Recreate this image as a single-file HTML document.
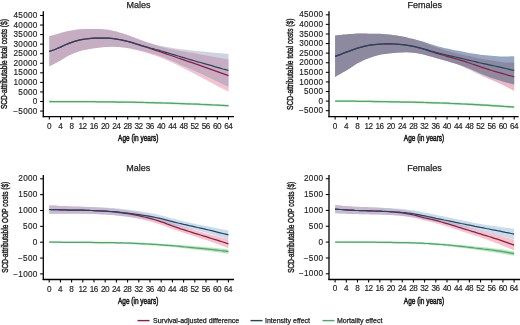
<!DOCTYPE html>
<html><head><meta charset="utf-8"><style>
html,body{margin:0;padding:0;background:#fff;width:520px;height:325px;overflow:hidden}
svg{display:block;filter:blur(0.3px)}
text{font-family:"Liberation Sans", sans-serif;fill:#1e1e1e;stroke:#1e1e1e;stroke-width:0.25px}
.tk{font-size:8.2px;stroke-width:0.15px}
.xl{font-size:9.8px;stroke-width:0.6px}
.ti{font-size:9px}
.yl{font-size:9.2px;stroke-width:0.45px}
.lg{font-size:7px}
</style></head><body>
<svg width="520" height="325" viewBox="0 0 520 325">
<rect width="520" height="325" fill="#fff"/>
<clipPath id="c1"><path d="M49.3,36.1 L52.1,35.5 L54.9,34.8 L57.7,33.9 L60.5,33.1 L63.3,32.3 L66.1,31.6 L68.9,31.1 L71.7,30.6 L74.5,30.1 L77.3,29.6 L80.1,29.2 L82.9,29.0 L85.7,29.0 L88.5,28.9 L91.3,28.9 L94.1,28.9 L96.9,29.0 L99.7,29.0 L102.5,29.2 L105.3,29.4 L108.1,29.8 L110.9,30.3 L113.7,30.9 L116.5,31.6 L119.3,32.4 L122.1,33.2 L124.9,34.1 L127.7,35.1 L130.5,36.0 L133.3,37.1 L136.1,38.1 L138.9,39.2 L141.7,40.2 L144.5,41.3 L147.3,42.3 L150.1,43.2 L152.9,44.0 L155.7,44.7 L158.5,45.4 L161.3,46.1 L164.1,46.6 L166.9,47.1 L169.7,47.6 L172.5,48.1 L175.3,48.5 L178.1,48.8 L180.9,49.2 L183.7,49.5 L186.5,49.8 L189.3,50.2 L192.1,50.5 L194.9,50.8 L197.7,51.1 L200.5,51.4 L203.3,51.6 L206.1,51.9 L208.9,52.2 L211.7,52.5 L214.5,52.8 L217.3,53.0 L220.1,53.3 L222.9,53.5 L225.7,53.7 L228.5,53.9 L228.5,87.0 L225.7,85.6 L222.9,84.2 L220.1,82.9 L217.3,81.5 L214.5,80.2 L211.7,78.8 L208.9,77.5 L206.1,76.2 L203.3,74.8 L200.5,73.5 L197.7,72.2 L194.9,70.9 L192.1,69.7 L189.3,68.5 L186.5,67.3 L183.7,66.1 L180.9,64.9 L178.1,63.6 L175.3,62.3 L172.5,61.1 L169.7,59.9 L166.9,58.7 L164.1,57.5 L161.3,56.5 L158.5,55.5 L155.7,54.6 L152.9,53.7 L150.1,52.9 L147.3,52.2 L144.5,51.5 L141.7,50.8 L138.9,50.2 L136.1,49.5 L133.3,48.9 L130.5,48.3 L127.7,47.9 L124.9,47.5 L122.1,47.2 L119.3,47.0 L116.5,46.9 L113.7,46.8 L110.9,46.8 L108.1,46.9 L105.3,47.0 L102.5,47.2 L99.7,47.5 L96.9,47.9 L94.1,48.3 L91.3,48.7 L88.5,49.2 L85.7,49.7 L82.9,50.3 L80.1,51.0 L77.3,52.0 L74.5,53.1 L71.7,54.3 L68.9,55.6 L66.1,57.1 L63.3,58.8 L60.5,60.5 L57.7,62.1 L54.9,63.6 L52.1,65.0 L49.3,66.3 Z"/></clipPath>
<path d="M49.3,36.1 L52.1,35.5 L54.9,34.8 L57.7,33.9 L60.5,33.1 L63.3,32.3 L66.1,31.6 L68.9,31.1 L71.7,30.6 L74.5,30.1 L77.3,29.6 L80.1,29.2 L82.9,29.0 L85.7,29.0 L88.5,28.9 L91.3,28.9 L94.1,28.9 L96.9,29.0 L99.7,29.0 L102.5,29.2 L105.3,29.4 L108.1,29.8 L110.9,30.3 L113.7,30.9 L116.5,31.6 L119.3,32.4 L122.1,33.3 L124.9,34.2 L127.7,35.2 L130.5,36.2 L133.3,37.3 L136.1,38.4 L138.9,39.5 L141.7,40.5 L144.5,41.4 L147.3,42.4 L150.1,43.3 L152.9,44.2 L155.7,45.1 L158.5,46.0 L161.3,46.8 L164.1,47.6 L166.9,48.3 L169.7,48.9 L172.5,49.5 L175.3,50.0 L178.1,50.6 L180.9,51.0 L183.7,51.5 L186.5,52.0 L189.3,52.4 L192.1,52.8 L194.9,53.3 L197.7,53.8 L200.5,54.4 L203.3,55.0 L206.1,55.5 L208.9,56.1 L211.7,56.6 L214.5,57.1 L217.3,57.6 L220.1,58.1 L222.9,58.6 L225.7,59.1 L228.5,59.5 L228.5,91.7 L225.7,90.3 L222.9,88.8 L220.1,87.4 L217.3,85.9 L214.5,84.4 L211.7,83.0 L208.9,81.5 L206.1,80.0 L203.3,78.5 L200.5,77.0 L197.7,75.4 L194.9,74.0 L192.1,72.5 L189.3,71.1 L186.5,69.7 L183.7,68.3 L180.9,66.9 L178.1,65.5 L175.3,64.0 L172.5,62.7 L169.7,61.4 L166.9,60.2 L164.1,59.0 L161.3,57.9 L158.5,56.8 L155.7,55.8 L152.9,54.9 L150.1,54.0 L147.3,53.1 L144.5,52.3 L141.7,51.6 L138.9,50.8 L136.1,50.1 L133.3,49.4 L130.5,48.7 L127.7,48.2 L124.9,47.7 L122.1,47.4 L119.3,47.1 L116.5,46.9 L113.7,46.8 L110.9,46.8 L108.1,46.9 L105.3,47.0 L102.5,47.2 L99.7,47.5 L96.9,47.9 L94.1,48.3 L91.3,48.7 L88.5,49.2 L85.7,49.7 L82.9,50.3 L80.1,51.0 L77.3,52.0 L74.5,53.1 L71.7,54.3 L68.9,55.6 L66.1,57.1 L63.3,58.8 L60.5,60.5 L57.7,62.1 L54.9,63.6 L52.1,65.0 L49.3,66.3 Z" fill="#f3c4d0"/>
<path d="M49.3,36.1 L52.1,35.5 L54.9,34.8 L57.7,33.9 L60.5,33.1 L63.3,32.3 L66.1,31.6 L68.9,31.1 L71.7,30.6 L74.5,30.1 L77.3,29.6 L80.1,29.2 L82.9,29.0 L85.7,29.0 L88.5,28.9 L91.3,28.9 L94.1,28.9 L96.9,29.0 L99.7,29.0 L102.5,29.2 L105.3,29.4 L108.1,29.8 L110.9,30.3 L113.7,30.9 L116.5,31.6 L119.3,32.4 L122.1,33.2 L124.9,34.1 L127.7,35.1 L130.5,36.0 L133.3,37.1 L136.1,38.1 L138.9,39.2 L141.7,40.2 L144.5,41.3 L147.3,42.3 L150.1,43.2 L152.9,44.0 L155.7,44.7 L158.5,45.4 L161.3,46.1 L164.1,46.6 L166.9,47.1 L169.7,47.6 L172.5,48.1 L175.3,48.5 L178.1,48.8 L180.9,49.2 L183.7,49.5 L186.5,49.8 L189.3,50.2 L192.1,50.5 L194.9,50.8 L197.7,51.1 L200.5,51.4 L203.3,51.6 L206.1,51.9 L208.9,52.2 L211.7,52.5 L214.5,52.8 L217.3,53.0 L220.1,53.3 L222.9,53.5 L225.7,53.7 L228.5,53.9 L228.5,87.0 L225.7,85.6 L222.9,84.2 L220.1,82.9 L217.3,81.5 L214.5,80.2 L211.7,78.8 L208.9,77.5 L206.1,76.2 L203.3,74.8 L200.5,73.5 L197.7,72.2 L194.9,70.9 L192.1,69.7 L189.3,68.5 L186.5,67.3 L183.7,66.1 L180.9,64.9 L178.1,63.6 L175.3,62.3 L172.5,61.1 L169.7,59.9 L166.9,58.7 L164.1,57.5 L161.3,56.5 L158.5,55.5 L155.7,54.6 L152.9,53.7 L150.1,52.9 L147.3,52.2 L144.5,51.5 L141.7,50.8 L138.9,50.2 L136.1,49.5 L133.3,48.9 L130.5,48.3 L127.7,47.9 L124.9,47.5 L122.1,47.2 L119.3,47.0 L116.5,46.9 L113.7,46.8 L110.9,46.8 L108.1,46.9 L105.3,47.0 L102.5,47.2 L99.7,47.5 L96.9,47.9 L94.1,48.3 L91.3,48.7 L88.5,49.2 L85.7,49.7 L82.9,50.3 L80.1,51.0 L77.3,52.0 L74.5,53.1 L71.7,54.3 L68.9,55.6 L66.1,57.1 L63.3,58.8 L60.5,60.5 L57.7,62.1 L54.9,63.6 L52.1,65.0 L49.3,66.3 Z" fill="#cdd3e3"/>
<path d="M49.3,36.1 L52.1,35.5 L54.9,34.8 L57.7,33.9 L60.5,33.1 L63.3,32.3 L66.1,31.6 L68.9,31.1 L71.7,30.6 L74.5,30.1 L77.3,29.6 L80.1,29.2 L82.9,29.0 L85.7,29.0 L88.5,28.9 L91.3,28.9 L94.1,28.9 L96.9,29.0 L99.7,29.0 L102.5,29.2 L105.3,29.4 L108.1,29.8 L110.9,30.3 L113.7,30.9 L116.5,31.6 L119.3,32.4 L122.1,33.3 L124.9,34.2 L127.7,35.2 L130.5,36.2 L133.3,37.3 L136.1,38.4 L138.9,39.5 L141.7,40.5 L144.5,41.4 L147.3,42.4 L150.1,43.3 L152.9,44.2 L155.7,45.1 L158.5,46.0 L161.3,46.8 L164.1,47.6 L166.9,48.3 L169.7,48.9 L172.5,49.5 L175.3,50.0 L178.1,50.6 L180.9,51.0 L183.7,51.5 L186.5,52.0 L189.3,52.4 L192.1,52.8 L194.9,53.3 L197.7,53.8 L200.5,54.4 L203.3,55.0 L206.1,55.5 L208.9,56.1 L211.7,56.6 L214.5,57.1 L217.3,57.6 L220.1,58.1 L222.9,58.6 L225.7,59.1 L228.5,59.5 L228.5,91.7 L225.7,90.3 L222.9,88.8 L220.1,87.4 L217.3,85.9 L214.5,84.4 L211.7,83.0 L208.9,81.5 L206.1,80.0 L203.3,78.5 L200.5,77.0 L197.7,75.4 L194.9,74.0 L192.1,72.5 L189.3,71.1 L186.5,69.7 L183.7,68.3 L180.9,66.9 L178.1,65.5 L175.3,64.0 L172.5,62.7 L169.7,61.4 L166.9,60.2 L164.1,59.0 L161.3,57.9 L158.5,56.8 L155.7,55.8 L152.9,54.9 L150.1,54.0 L147.3,53.1 L144.5,52.3 L141.7,51.6 L138.9,50.8 L136.1,50.1 L133.3,49.4 L130.5,48.7 L127.7,48.2 L124.9,47.7 L122.1,47.4 L119.3,47.1 L116.5,46.9 L113.7,46.8 L110.9,46.8 L108.1,46.9 L105.3,47.0 L102.5,47.2 L99.7,47.5 L96.9,47.9 L94.1,48.3 L91.3,48.7 L88.5,49.2 L85.7,49.7 L82.9,50.3 L80.1,51.0 L77.3,52.0 L74.5,53.1 L71.7,54.3 L68.9,55.6 L66.1,57.1 L63.3,58.8 L60.5,60.5 L57.7,62.1 L54.9,63.6 L52.1,65.0 L49.3,66.3 Z" fill="#c7adc2" clip-path="url(#c1)"/>
<path d="M49.3,100.6 L52.1,100.6 L54.9,100.7 L57.7,100.7 L60.5,100.7 L63.3,100.7 L66.1,100.7 L68.9,100.7 L71.7,100.7 L74.5,100.7 L77.3,100.7 L80.1,100.7 L82.9,100.7 L85.7,100.8 L88.5,100.8 L91.3,100.8 L94.1,100.8 L96.9,100.8 L99.7,100.9 L102.5,100.9 L105.3,100.9 L108.1,100.9 L110.9,101.0 L113.7,101.0 L116.5,101.0 L119.3,101.1 L122.1,101.1 L124.9,101.2 L127.7,101.2 L130.5,101.3 L133.3,101.3 L136.1,101.3 L138.9,101.4 L141.7,101.5 L144.5,101.5 L147.3,101.6 L150.1,101.7 L152.9,101.7 L155.7,101.8 L158.5,101.9 L161.3,102.0 L164.1,102.0 L166.9,102.1 L169.7,102.2 L172.5,102.3 L175.3,102.4 L178.1,102.5 L180.9,102.6 L183.7,102.7 L186.5,102.8 L189.3,102.9 L192.1,103.0 L194.9,103.1 L197.7,103.2 L200.5,103.3 L203.3,103.4 L206.1,103.6 L208.9,103.7 L211.7,103.8 L214.5,104.0 L217.3,104.1 L220.1,104.2 L222.9,104.4 L225.7,104.5 L228.5,104.7 L228.5,106.8 L225.7,106.6 L222.9,106.5 L220.1,106.3 L217.3,106.2 L214.5,106.0 L211.7,105.9 L208.9,105.8 L206.1,105.6 L203.3,105.5 L200.5,105.4 L197.7,105.3 L194.9,105.1 L192.1,105.0 L189.3,104.9 L186.5,104.8 L183.7,104.7 L180.9,104.6 L178.1,104.5 L175.3,104.4 L172.5,104.3 L169.7,104.2 L166.9,104.1 L164.1,104.0 L161.3,103.9 L158.5,103.8 L155.7,103.7 L152.9,103.7 L150.1,103.6 L147.3,103.5 L144.5,103.4 L141.7,103.4 L138.9,103.3 L136.1,103.3 L133.3,103.2 L130.5,103.1 L127.7,103.1 L124.9,103.0 L122.1,103.0 L119.3,103.0 L116.5,102.9 L113.7,102.9 L110.9,102.8 L108.1,102.8 L105.3,102.8 L102.5,102.7 L99.7,102.7 L96.9,102.7 L94.1,102.6 L91.3,102.6 L88.5,102.6 L85.7,102.6 L82.9,102.5 L80.1,102.5 L77.3,102.5 L74.5,102.5 L71.7,102.5 L68.9,102.4 L66.1,102.4 L63.3,102.4 L60.5,102.4 L57.7,102.4 L54.9,102.4 L52.1,102.4 L49.3,102.4 Z" fill="#b4e4be" fill-opacity="1"/>
<path d="M49.3,101.5 L52.1,101.5 L54.9,101.5 L57.7,101.5 L60.5,101.5 L63.3,101.5 L66.1,101.6 L68.9,101.6 L71.7,101.6 L74.5,101.6 L77.3,101.6 L80.1,101.6 L82.9,101.6 L85.7,101.7 L88.5,101.7 L91.3,101.7 L94.1,101.7 L96.9,101.8 L99.7,101.8 L102.5,101.8 L105.3,101.8 L108.1,101.9 L110.9,101.9 L113.7,101.9 L116.5,102.0 L119.3,102.0 L122.1,102.1 L124.9,102.1 L127.7,102.1 L130.5,102.2 L133.3,102.2 L136.1,102.3 L138.9,102.4 L141.7,102.4 L144.5,102.5 L147.3,102.6 L150.1,102.6 L152.9,102.7 L155.7,102.8 L158.5,102.9 L161.3,102.9 L164.1,103.0 L166.9,103.1 L169.7,103.2 L172.5,103.3 L175.3,103.4 L178.1,103.5 L180.9,103.6 L183.7,103.7 L186.5,103.8 L189.3,103.9 L192.1,104.0 L194.9,104.1 L197.7,104.2 L200.5,104.4 L203.3,104.5 L206.1,104.6 L208.9,104.7 L211.7,104.9 L214.5,105.0 L217.3,105.1 L220.1,105.3 L222.9,105.4 L225.7,105.6 L228.5,105.7" fill="none" stroke="#47a962" stroke-width="1.25"/>
<path d="M49.3,51.4 L52.1,50.5 L54.9,49.5 L57.7,48.3 L60.5,47.1 L63.3,45.8 L66.1,44.5 L68.9,43.4 L71.7,42.3 L74.5,41.4 L77.3,40.6 L80.1,39.9 L82.9,39.4 L85.7,39.0 L88.5,38.7 L91.3,38.4 L94.1,38.2 L96.9,38.1 L99.7,38.0 L102.5,38.0 L105.3,38.0 L108.1,38.2 L110.9,38.4 L113.7,38.7 L116.5,39.1 L119.3,39.6 L122.1,40.1 L124.9,40.8 L127.7,41.5 L130.5,42.2 L133.3,43.1 L136.1,44.0 L138.9,44.9 L141.7,45.8 L144.5,46.7 L147.3,47.5 L150.1,48.4 L152.9,49.4 L155.7,50.3 L158.5,51.2 L161.3,52.2 L164.1,53.1 L166.9,54.1 L169.7,55.0 L172.5,56.0 L175.3,57.0 L178.1,58.0 L180.9,58.9 L183.7,59.9 L186.5,60.9 L189.3,61.8 L192.1,62.7 L194.9,63.6 L197.7,64.6 L200.5,65.6 L203.3,66.6 L206.1,67.6 L208.9,68.6 L211.7,69.6 L214.5,70.6 L217.3,71.6 L220.1,72.6 L222.9,73.6 L225.7,74.6 L228.5,75.6" fill="none" stroke="#921b43" stroke-width="1.25"/>
<path d="M49.3,51.4 L52.1,50.5 L54.9,49.5 L57.7,48.3 L60.5,47.1 L63.3,45.8 L66.1,44.5 L68.9,43.4 L71.7,42.3 L74.5,41.4 L77.3,40.6 L80.1,39.9 L82.9,39.4 L85.7,39.0 L88.5,38.7 L91.3,38.4 L94.1,38.2 L96.9,38.1 L99.7,38.0 L102.5,38.0 L105.3,38.0 L108.1,38.2 L110.9,38.4 L113.7,38.7 L116.5,39.1 L119.3,39.5 L122.1,40.1 L124.9,40.7 L127.7,41.4 L130.5,42.1 L133.3,42.9 L136.1,43.8 L138.9,44.6 L141.7,45.5 L144.5,46.3 L147.3,47.1 L150.1,48.0 L152.9,48.7 L155.7,49.5 L158.5,50.2 L161.3,51.0 L164.1,51.8 L166.9,52.7 L169.7,53.5 L172.5,54.4 L175.3,55.2 L178.1,56.0 L180.9,56.9 L183.7,57.7 L186.5,58.5 L189.3,59.4 L192.1,60.2 L194.9,61.0 L197.7,61.8 L200.5,62.5 L203.3,63.3 L206.1,64.1 L208.9,64.9 L211.7,65.7 L214.5,66.6 L217.3,67.4 L220.1,68.2 L222.9,69.0 L225.7,69.7 L228.5,70.5" fill="none" stroke="#1f4864" stroke-width="1.25"/>
<clipPath id="c2"><path d="M335.1,35.5 L337.9,35.2 L340.7,34.9 L343.5,34.6 L346.3,34.4 L349.1,34.1 L351.9,33.9 L354.7,33.7 L357.5,33.6 L360.3,33.5 L363.1,33.6 L365.9,33.6 L368.7,33.7 L371.5,33.7 L374.3,33.7 L377.1,33.7 L379.9,33.8 L382.7,34.0 L385.5,34.2 L388.3,34.5 L391.1,34.8 L393.9,35.2 L396.7,35.5 L399.5,36.0 L402.3,36.5 L405.1,37.0 L407.9,37.7 L410.7,38.4 L413.5,39.1 L416.3,39.8 L419.1,40.5 L421.9,41.2 L424.7,42.0 L427.4,42.9 L430.2,43.9 L433.0,44.8 L435.8,45.7 L438.6,46.5 L441.4,47.2 L444.2,47.9 L447.0,48.5 L449.8,49.1 L452.6,49.7 L455.4,50.2 L458.2,50.8 L461.0,51.3 L463.8,51.8 L466.6,52.4 L469.4,52.9 L472.2,53.4 L475.0,53.8 L477.8,54.3 L480.6,54.7 L483.4,55.0 L486.2,55.3 L489.0,55.6 L491.8,55.8 L494.6,56.1 L497.4,56.3 L500.2,56.4 L503.0,56.5 L505.8,56.5 L508.6,56.4 L511.4,56.3 L514.2,56.2 L514.2,84.4 L511.4,83.7 L508.6,83.0 L505.8,82.2 L503.0,81.4 L500.2,80.6 L497.4,79.8 L494.6,78.8 L491.8,77.9 L489.0,76.9 L486.2,75.8 L483.4,74.7 L480.6,73.6 L477.8,72.3 L475.0,71.0 L472.2,69.7 L469.4,68.5 L466.6,67.4 L463.8,66.3 L461.0,65.3 L458.2,64.4 L455.4,63.5 L452.6,62.7 L449.8,61.9 L447.0,61.1 L444.2,60.3 L441.4,59.5 L438.6,58.7 L435.8,57.9 L433.0,57.1 L430.2,56.3 L427.4,55.5 L424.7,54.8 L421.9,54.1 L419.1,53.5 L416.3,53.0 L413.5,52.7 L410.7,52.4 L407.9,52.3 L405.1,52.3 L402.3,52.4 L399.5,52.5 L396.7,52.7 L393.9,52.9 L391.1,53.2 L388.3,53.6 L385.5,53.9 L382.7,54.3 L379.9,54.8 L377.1,55.5 L374.3,56.3 L371.5,57.2 L368.7,58.2 L365.9,59.3 L363.1,60.6 L360.3,61.9 L357.5,63.3 L354.7,65.0 L351.9,66.9 L349.1,68.7 L346.3,70.4 L343.5,72.1 L340.7,73.7 L337.9,75.3 L335.1,76.9 Z"/></clipPath>
<path d="M335.1,35.5 L337.9,35.2 L340.7,34.9 L343.5,34.6 L346.3,34.4 L349.1,34.1 L351.9,33.9 L354.7,33.7 L357.5,33.6 L360.3,33.5 L363.1,33.6 L365.9,33.6 L368.7,33.7 L371.5,33.7 L374.3,33.7 L377.1,33.7 L379.9,33.8 L382.7,34.0 L385.5,34.2 L388.3,34.5 L391.1,34.8 L393.9,35.2 L396.7,35.5 L399.5,36.0 L402.3,36.5 L405.1,37.0 L407.9,37.7 L410.7,38.4 L413.5,39.1 L416.3,40.0 L419.1,40.9 L421.9,41.8 L424.7,42.8 L427.4,43.8 L430.2,45.0 L433.0,46.1 L435.8,47.1 L438.6,48.1 L441.4,49.0 L444.2,49.9 L447.0,50.8 L449.8,51.6 L452.6,52.3 L455.4,53.0 L458.2,53.7 L461.0,54.4 L463.8,55.0 L466.6,55.5 L469.4,56.1 L472.2,56.7 L475.0,57.3 L477.8,57.9 L480.6,58.4 L483.4,59.0 L486.2,59.5 L489.0,60.0 L491.8,60.5 L494.6,61.0 L497.4,61.5 L500.2,61.8 L503.0,62.2 L505.8,62.4 L508.6,62.5 L511.4,62.6 L514.2,62.6 L514.2,91.0 L511.4,89.5 L508.6,87.9 L505.8,86.4 L503.0,85.0 L500.2,83.7 L497.4,82.5 L494.6,81.3 L491.8,80.1 L489.0,78.9 L486.2,77.6 L483.4,76.4 L480.6,75.1 L477.8,73.8 L475.0,72.4 L472.2,71.1 L469.4,69.7 L466.6,68.5 L463.8,67.2 L461.0,66.0 L458.2,64.8 L455.4,63.8 L452.6,62.9 L449.8,62.1 L447.0,61.2 L444.2,60.4 L441.4,59.6 L438.6,58.8 L435.8,58.0 L433.0,57.2 L430.2,56.4 L427.4,55.7 L424.7,55.0 L421.9,54.3 L419.1,53.7 L416.3,53.2 L413.5,52.8 L410.7,52.5 L407.9,52.4 L405.1,52.3 L402.3,52.4 L399.5,52.5 L396.7,52.7 L393.9,52.9 L391.1,53.2 L388.3,53.6 L385.5,53.9 L382.7,54.3 L379.9,54.8 L377.1,55.5 L374.3,56.3 L371.5,57.2 L368.7,58.2 L365.9,59.3 L363.1,60.6 L360.3,61.9 L357.5,63.3 L354.7,65.0 L351.9,66.9 L349.1,68.7 L346.3,70.4 L343.5,72.1 L340.7,73.7 L337.9,75.3 L335.1,76.9 Z" fill="#efb6c6"/>
<path d="M335.1,35.5 L337.9,35.2 L340.7,34.9 L343.5,34.6 L346.3,34.4 L349.1,34.1 L351.9,33.9 L354.7,33.7 L357.5,33.6 L360.3,33.5 L363.1,33.6 L365.9,33.6 L368.7,33.7 L371.5,33.7 L374.3,33.7 L377.1,33.7 L379.9,33.8 L382.7,34.0 L385.5,34.2 L388.3,34.5 L391.1,34.8 L393.9,35.2 L396.7,35.5 L399.5,36.0 L402.3,36.5 L405.1,37.0 L407.9,37.7 L410.7,38.4 L413.5,39.1 L416.3,39.8 L419.1,40.5 L421.9,41.2 L424.7,42.0 L427.4,42.9 L430.2,43.9 L433.0,44.8 L435.8,45.7 L438.6,46.5 L441.4,47.2 L444.2,47.9 L447.0,48.5 L449.8,49.1 L452.6,49.7 L455.4,50.2 L458.2,50.8 L461.0,51.3 L463.8,51.8 L466.6,52.4 L469.4,52.9 L472.2,53.4 L475.0,53.8 L477.8,54.3 L480.6,54.7 L483.4,55.0 L486.2,55.3 L489.0,55.6 L491.8,55.8 L494.6,56.1 L497.4,56.3 L500.2,56.4 L503.0,56.5 L505.8,56.5 L508.6,56.4 L511.4,56.3 L514.2,56.2 L514.2,84.4 L511.4,83.7 L508.6,83.0 L505.8,82.2 L503.0,81.4 L500.2,80.6 L497.4,79.8 L494.6,78.8 L491.8,77.9 L489.0,76.9 L486.2,75.8 L483.4,74.7 L480.6,73.6 L477.8,72.3 L475.0,71.0 L472.2,69.7 L469.4,68.5 L466.6,67.4 L463.8,66.3 L461.0,65.3 L458.2,64.4 L455.4,63.5 L452.6,62.7 L449.8,61.9 L447.0,61.1 L444.2,60.3 L441.4,59.5 L438.6,58.7 L435.8,57.9 L433.0,57.1 L430.2,56.3 L427.4,55.5 L424.7,54.8 L421.9,54.1 L419.1,53.5 L416.3,53.0 L413.5,52.7 L410.7,52.4 L407.9,52.3 L405.1,52.3 L402.3,52.4 L399.5,52.5 L396.7,52.7 L393.9,52.9 L391.1,53.2 L388.3,53.6 L385.5,53.9 L382.7,54.3 L379.9,54.8 L377.1,55.5 L374.3,56.3 L371.5,57.2 L368.7,58.2 L365.9,59.3 L363.1,60.6 L360.3,61.9 L357.5,63.3 L354.7,65.0 L351.9,66.9 L349.1,68.7 L346.3,70.4 L343.5,72.1 L340.7,73.7 L337.9,75.3 L335.1,76.9 Z" fill="#98a6c4"/>
<path d="M335.1,35.5 L337.9,35.2 L340.7,34.9 L343.5,34.6 L346.3,34.4 L349.1,34.1 L351.9,33.9 L354.7,33.7 L357.5,33.6 L360.3,33.5 L363.1,33.6 L365.9,33.6 L368.7,33.7 L371.5,33.7 L374.3,33.7 L377.1,33.7 L379.9,33.8 L382.7,34.0 L385.5,34.2 L388.3,34.5 L391.1,34.8 L393.9,35.2 L396.7,35.5 L399.5,36.0 L402.3,36.5 L405.1,37.0 L407.9,37.7 L410.7,38.4 L413.5,39.1 L416.3,40.0 L419.1,40.9 L421.9,41.8 L424.7,42.8 L427.4,43.8 L430.2,45.0 L433.0,46.1 L435.8,47.1 L438.6,48.1 L441.4,49.0 L444.2,49.9 L447.0,50.8 L449.8,51.6 L452.6,52.3 L455.4,53.0 L458.2,53.7 L461.0,54.4 L463.8,55.0 L466.6,55.5 L469.4,56.1 L472.2,56.7 L475.0,57.3 L477.8,57.9 L480.6,58.4 L483.4,59.0 L486.2,59.5 L489.0,60.0 L491.8,60.5 L494.6,61.0 L497.4,61.5 L500.2,61.8 L503.0,62.2 L505.8,62.4 L508.6,62.5 L511.4,62.6 L514.2,62.6 L514.2,91.0 L511.4,89.5 L508.6,87.9 L505.8,86.4 L503.0,85.0 L500.2,83.7 L497.4,82.5 L494.6,81.3 L491.8,80.1 L489.0,78.9 L486.2,77.6 L483.4,76.4 L480.6,75.1 L477.8,73.8 L475.0,72.4 L472.2,71.1 L469.4,69.7 L466.6,68.5 L463.8,67.2 L461.0,66.0 L458.2,64.8 L455.4,63.8 L452.6,62.9 L449.8,62.1 L447.0,61.2 L444.2,60.4 L441.4,59.6 L438.6,58.8 L435.8,58.0 L433.0,57.2 L430.2,56.4 L427.4,55.7 L424.7,55.0 L421.9,54.3 L419.1,53.7 L416.3,53.2 L413.5,52.8 L410.7,52.5 L407.9,52.4 L405.1,52.3 L402.3,52.4 L399.5,52.5 L396.7,52.7 L393.9,52.9 L391.1,53.2 L388.3,53.6 L385.5,53.9 L382.7,54.3 L379.9,54.8 L377.1,55.5 L374.3,56.3 L371.5,57.2 L368.7,58.2 L365.9,59.3 L363.1,60.6 L360.3,61.9 L357.5,63.3 L354.7,65.0 L351.9,66.9 L349.1,68.7 L346.3,70.4 L343.5,72.1 L340.7,73.7 L337.9,75.3 L335.1,76.9 Z" fill="#8d8aa0" clip-path="url(#c2)"/>
<path d="M335.1,100.2 L337.9,100.2 L340.7,100.3 L343.5,100.3 L346.3,100.3 L349.1,100.3 L351.9,100.3 L354.7,100.3 L357.5,100.4 L360.3,100.4 L363.1,100.4 L365.9,100.4 L368.7,100.5 L371.5,100.5 L374.3,100.6 L377.1,100.6 L379.9,100.6 L382.7,100.7 L385.5,100.7 L388.3,100.8 L391.1,100.8 L393.9,100.8 L396.7,100.9 L399.5,100.9 L402.3,101.0 L405.1,101.0 L407.9,101.1 L410.7,101.2 L413.5,101.2 L416.3,101.3 L419.1,101.3 L421.9,101.4 L424.7,101.5 L427.4,101.6 L430.2,101.7 L433.0,101.7 L435.8,101.8 L438.6,101.9 L441.4,102.0 L444.2,102.1 L447.0,102.2 L449.8,102.3 L452.6,102.4 L455.4,102.5 L458.2,102.7 L461.0,102.8 L463.8,102.9 L466.6,103.0 L469.4,103.2 L472.2,103.3 L475.0,103.5 L477.8,103.6 L480.6,103.8 L483.4,103.9 L486.2,104.1 L489.0,104.3 L491.8,104.5 L494.6,104.6 L497.4,104.8 L500.2,105.0 L503.0,105.2 L505.8,105.4 L508.6,105.6 L511.4,105.8 L514.2,106.0 L514.2,108.3 L511.4,108.1 L508.6,107.9 L505.8,107.7 L503.0,107.5 L500.2,107.3 L497.4,107.1 L494.6,106.9 L491.8,106.7 L489.0,106.5 L486.2,106.3 L483.4,106.2 L480.6,106.0 L477.8,105.8 L475.0,105.7 L472.2,105.5 L469.4,105.3 L466.6,105.2 L463.8,105.1 L461.0,104.9 L458.2,104.8 L455.4,104.7 L452.6,104.5 L449.8,104.4 L447.0,104.3 L444.2,104.2 L441.4,104.1 L438.6,104.0 L435.8,103.9 L433.0,103.8 L430.2,103.7 L427.4,103.6 L424.7,103.5 L421.9,103.4 L419.1,103.3 L416.3,103.3 L413.5,103.2 L410.7,103.1 L407.9,103.1 L405.1,103.0 L402.3,102.9 L399.5,102.9 L396.7,102.8 L393.9,102.8 L391.1,102.7 L388.3,102.7 L385.5,102.6 L382.7,102.6 L379.9,102.5 L377.1,102.5 L374.3,102.4 L371.5,102.4 L368.7,102.3 L365.9,102.3 L363.1,102.2 L360.3,102.2 L357.5,102.2 L354.7,102.1 L351.9,102.1 L349.1,102.1 L346.3,102.0 L343.5,102.0 L340.7,102.0 L337.9,102.0 L335.1,102.0 Z" fill="#b4e4be" fill-opacity="1"/>
<path d="M335.1,101.1 L337.9,101.1 L340.7,101.1 L343.5,101.1 L346.3,101.2 L349.1,101.2 L351.9,101.2 L354.7,101.2 L357.5,101.3 L360.3,101.3 L363.1,101.3 L365.9,101.4 L368.7,101.4 L371.5,101.4 L374.3,101.5 L377.1,101.5 L379.9,101.6 L382.7,101.6 L385.5,101.7 L388.3,101.7 L391.1,101.8 L393.9,101.8 L396.7,101.9 L399.5,101.9 L402.3,102.0 L405.1,102.0 L407.9,102.1 L410.7,102.1 L413.5,102.2 L416.3,102.3 L419.1,102.3 L421.9,102.4 L424.7,102.5 L427.4,102.6 L430.2,102.7 L433.0,102.8 L435.8,102.8 L438.6,102.9 L441.4,103.0 L444.2,103.1 L447.0,103.2 L449.8,103.4 L452.6,103.5 L455.4,103.6 L458.2,103.7 L461.0,103.9 L463.8,104.0 L466.6,104.1 L469.4,104.3 L472.2,104.4 L475.0,104.6 L477.8,104.7 L480.6,104.9 L483.4,105.1 L486.2,105.2 L489.0,105.4 L491.8,105.6 L494.6,105.8 L497.4,105.9 L500.2,106.1 L503.0,106.3 L505.8,106.5 L508.6,106.7 L511.4,106.9 L514.2,107.1" fill="none" stroke="#47a962" stroke-width="1.25"/>
<path d="M335.1,56.3 L337.9,55.3 L340.7,54.3 L343.5,53.2 L346.3,52.2 L349.1,51.2 L351.9,50.1 L354.7,49.1 L357.5,48.2 L360.3,47.3 L363.1,46.6 L365.9,45.9 L368.7,45.4 L371.5,44.9 L374.3,44.6 L377.1,44.4 L379.9,44.2 L382.7,44.0 L385.5,43.9 L388.3,43.9 L391.1,43.9 L393.9,44.0 L396.7,44.2 L399.5,44.3 L402.3,44.6 L405.1,45.0 L407.9,45.4 L410.7,45.9 L413.5,46.4 L416.3,47.1 L419.1,47.9 L421.9,48.7 L424.7,49.5 L427.4,50.4 L430.2,51.3 L433.0,52.2 L435.8,53.1 L438.6,53.9 L441.4,54.7 L444.2,55.5 L447.0,56.3 L449.8,57.1 L452.6,57.9 L455.4,58.7 L458.2,59.5 L461.0,60.3 L463.8,61.2 L466.6,62.1 L469.4,63.0 L472.2,64.0 L475.0,64.9 L477.8,65.9 L480.6,66.9 L483.4,67.8 L486.2,68.7 L489.0,69.6 L491.8,70.5 L494.6,71.3 L497.4,72.1 L500.2,72.9 L503.0,73.7 L505.8,74.5 L508.6,75.3 L511.4,76.0 L514.2,76.8" fill="none" stroke="#921b43" stroke-width="1.25"/>
<path d="M335.1,56.3 L337.9,55.3 L340.7,54.3 L343.5,53.2 L346.3,52.2 L349.1,51.2 L351.9,50.1 L354.7,49.1 L357.5,48.2 L360.3,47.3 L363.1,46.6 L365.9,45.9 L368.7,45.4 L371.5,44.9 L374.3,44.6 L377.1,44.4 L379.9,44.2 L382.7,44.0 L385.5,43.9 L388.3,43.9 L391.1,43.9 L393.9,44.0 L396.7,44.2 L399.5,44.4 L402.3,44.6 L405.1,44.9 L407.9,45.3 L410.7,45.8 L413.5,46.3 L416.3,47.0 L419.1,47.6 L421.9,48.4 L424.7,49.1 L427.4,49.9 L430.2,50.8 L433.0,51.6 L435.8,52.4 L438.6,53.1 L441.4,53.8 L444.2,54.5 L447.0,55.2 L449.8,55.8 L452.6,56.4 L455.4,57.0 L458.2,57.7 L461.0,58.3 L463.8,59.0 L466.6,59.7 L469.4,60.3 L472.2,61.0 L475.0,61.7 L477.8,62.4 L480.6,63.0 L483.4,63.6 L486.2,64.2 L489.0,64.8 L491.8,65.4 L494.6,66.0 L497.4,66.6 L500.2,67.2 L503.0,67.8 L505.8,68.5 L508.6,69.1 L511.4,69.8 L514.2,70.4" fill="none" stroke="#1f4864" stroke-width="1.25"/>
<clipPath id="c3"><path d="M49.2,205.3 L52.0,205.4 L54.8,205.6 L57.6,205.7 L60.4,205.9 L63.2,206.0 L66.0,206.1 L68.8,206.3 L71.6,206.4 L74.4,206.5 L77.2,206.6 L80.0,206.7 L82.8,206.8 L85.6,206.9 L88.4,206.9 L91.2,207.0 L94.0,207.1 L96.8,207.2 L99.6,207.3 L102.4,207.5 L105.2,207.6 L108.0,207.8 L110.8,207.9 L113.6,208.1 L116.4,208.4 L119.2,208.6 L122.0,208.9 L124.8,209.2 L127.6,209.5 L130.4,209.9 L133.2,210.3 L136.0,210.7 L138.8,211.1 L141.6,211.5 L144.4,212.0 L147.2,212.4 L150.0,212.9 L152.8,213.5 L155.6,214.1 L158.4,214.7 L161.2,215.4 L164.0,216.1 L166.8,216.9 L169.6,217.7 L172.4,218.4 L175.2,219.1 L178.0,219.9 L180.8,220.6 L183.6,221.2 L186.4,221.9 L189.2,222.6 L192.0,223.2 L194.8,223.8 L197.6,224.4 L200.4,224.9 L203.2,225.5 L206.0,226.0 L208.8,226.6 L211.6,227.1 L214.4,227.7 L217.2,228.3 L220.0,228.8 L222.8,229.4 L225.6,230.0 L228.4,230.5 L228.4,239.3 L225.6,238.4 L222.8,237.6 L220.0,236.7 L217.2,235.9 L214.4,235.0 L211.6,234.2 L208.8,233.5 L206.0,232.7 L203.2,231.9 L200.4,231.2 L197.6,230.5 L194.8,229.8 L192.0,229.2 L189.2,228.6 L186.4,228.0 L183.6,227.3 L180.8,226.7 L178.0,226.1 L175.2,225.4 L172.4,224.8 L169.6,224.1 L166.8,223.4 L164.0,222.7 L161.2,222.1 L158.4,221.5 L155.6,220.9 L152.8,220.3 L150.0,219.8 L147.2,219.4 L144.4,219.0 L141.6,218.6 L138.8,218.2 L136.0,217.8 L133.2,217.4 L130.4,217.0 L127.6,216.7 L124.8,216.3 L122.0,216.0 L119.2,215.7 L116.4,215.5 L113.6,215.2 L110.8,215.0 L108.0,214.7 L105.2,214.5 L102.4,214.4 L99.6,214.2 L96.8,214.1 L94.0,214.0 L91.2,213.9 L88.4,213.8 L85.6,213.8 L82.8,213.7 L80.0,213.7 L77.2,213.7 L74.4,213.7 L71.6,213.7 L68.8,213.7 L66.0,213.7 L63.2,213.7 L60.4,213.7 L57.6,213.8 L54.8,213.8 L52.0,213.8 L49.2,213.8 Z"/></clipPath>
<path d="M49.2,205.3 L52.0,205.4 L54.8,205.6 L57.6,205.7 L60.4,205.9 L63.2,206.0 L66.0,206.1 L68.8,206.3 L71.6,206.4 L74.4,206.5 L77.2,206.6 L80.0,206.6 L82.8,206.7 L85.6,206.8 L88.4,207.0 L91.2,207.1 L94.0,207.2 L96.8,207.4 L99.6,207.5 L102.4,207.7 L105.2,207.9 L108.0,208.2 L110.8,208.5 L113.6,208.8 L116.4,209.1 L119.2,209.4 L122.0,209.8 L124.8,210.2 L127.6,210.6 L130.4,211.1 L133.2,211.6 L136.0,212.1 L138.8,212.7 L141.6,213.3 L144.4,214.0 L147.2,214.7 L150.0,215.4 L152.8,216.2 L155.6,217.0 L158.4,217.8 L161.2,218.7 L164.0,219.7 L166.8,220.8 L169.6,221.8 L172.4,222.9 L175.2,223.8 L178.0,224.8 L180.8,225.7 L183.6,226.7 L186.4,227.6 L189.2,228.5 L192.0,229.3 L194.8,230.2 L197.6,231.0 L200.4,231.8 L203.2,232.6 L206.0,233.4 L208.8,234.1 L211.6,234.9 L214.4,235.6 L217.2,236.4 L220.0,237.1 L222.8,237.9 L225.6,238.6 L228.4,239.4 L228.4,248.2 L225.6,247.1 L222.8,246.1 L220.0,245.1 L217.2,244.1 L214.4,243.1 L211.6,242.1 L208.8,241.1 L206.0,240.1 L203.2,239.2 L200.4,238.2 L197.6,237.3 L194.8,236.3 L192.0,235.4 L189.2,234.5 L186.4,233.6 L183.6,232.7 L180.8,231.8 L178.0,230.8 L175.2,229.9 L172.4,228.9 L169.6,227.9 L166.8,226.8 L164.0,225.7 L161.2,224.8 L158.4,223.9 L155.6,223.0 L152.8,222.2 L150.0,221.4 L147.2,220.7 L144.4,220.0 L141.6,219.3 L138.8,218.7 L136.0,218.2 L133.2,217.7 L130.4,217.2 L127.6,216.7 L124.8,216.4 L122.0,216.0 L119.2,215.7 L116.4,215.4 L113.6,215.1 L110.8,214.9 L108.0,214.7 L105.2,214.5 L102.4,214.4 L99.6,214.3 L96.8,214.2 L94.0,214.1 L91.2,214.0 L88.4,213.9 L85.6,213.8 L82.8,213.8 L80.0,213.7 L77.2,213.7 L74.4,213.7 L71.6,213.7 L68.8,213.7 L66.0,213.7 L63.2,213.7 L60.4,213.7 L57.6,213.8 L54.8,213.8 L52.0,213.8 L49.2,213.8 Z" fill="#f5c1ca"/>
<path d="M49.2,205.3 L52.0,205.4 L54.8,205.6 L57.6,205.7 L60.4,205.9 L63.2,206.0 L66.0,206.1 L68.8,206.3 L71.6,206.4 L74.4,206.5 L77.2,206.6 L80.0,206.7 L82.8,206.8 L85.6,206.9 L88.4,206.9 L91.2,207.0 L94.0,207.1 L96.8,207.2 L99.6,207.3 L102.4,207.5 L105.2,207.6 L108.0,207.8 L110.8,207.9 L113.6,208.1 L116.4,208.4 L119.2,208.6 L122.0,208.9 L124.8,209.2 L127.6,209.5 L130.4,209.9 L133.2,210.3 L136.0,210.7 L138.8,211.1 L141.6,211.5 L144.4,212.0 L147.2,212.4 L150.0,212.9 L152.8,213.5 L155.6,214.1 L158.4,214.7 L161.2,215.4 L164.0,216.1 L166.8,216.9 L169.6,217.7 L172.4,218.4 L175.2,219.1 L178.0,219.9 L180.8,220.6 L183.6,221.2 L186.4,221.9 L189.2,222.6 L192.0,223.2 L194.8,223.8 L197.6,224.4 L200.4,224.9 L203.2,225.5 L206.0,226.0 L208.8,226.6 L211.6,227.1 L214.4,227.7 L217.2,228.3 L220.0,228.8 L222.8,229.4 L225.6,230.0 L228.4,230.5 L228.4,239.3 L225.6,238.4 L222.8,237.6 L220.0,236.7 L217.2,235.9 L214.4,235.0 L211.6,234.2 L208.8,233.5 L206.0,232.7 L203.2,231.9 L200.4,231.2 L197.6,230.5 L194.8,229.8 L192.0,229.2 L189.2,228.6 L186.4,228.0 L183.6,227.3 L180.8,226.7 L178.0,226.1 L175.2,225.4 L172.4,224.8 L169.6,224.1 L166.8,223.4 L164.0,222.7 L161.2,222.1 L158.4,221.5 L155.6,220.9 L152.8,220.3 L150.0,219.8 L147.2,219.4 L144.4,219.0 L141.6,218.6 L138.8,218.2 L136.0,217.8 L133.2,217.4 L130.4,217.0 L127.6,216.7 L124.8,216.3 L122.0,216.0 L119.2,215.7 L116.4,215.5 L113.6,215.2 L110.8,215.0 L108.0,214.7 L105.2,214.5 L102.4,214.4 L99.6,214.2 L96.8,214.1 L94.0,214.0 L91.2,213.9 L88.4,213.8 L85.6,213.8 L82.8,213.7 L80.0,213.7 L77.2,213.7 L74.4,213.7 L71.6,213.7 L68.8,213.7 L66.0,213.7 L63.2,213.7 L60.4,213.7 L57.6,213.8 L54.8,213.8 L52.0,213.8 L49.2,213.8 Z" fill="#cadcec"/>
<path d="M49.2,205.3 L52.0,205.4 L54.8,205.6 L57.6,205.7 L60.4,205.9 L63.2,206.0 L66.0,206.1 L68.8,206.3 L71.6,206.4 L74.4,206.5 L77.2,206.6 L80.0,206.6 L82.8,206.7 L85.6,206.8 L88.4,207.0 L91.2,207.1 L94.0,207.2 L96.8,207.4 L99.6,207.5 L102.4,207.7 L105.2,207.9 L108.0,208.2 L110.8,208.5 L113.6,208.8 L116.4,209.1 L119.2,209.4 L122.0,209.8 L124.8,210.2 L127.6,210.6 L130.4,211.1 L133.2,211.6 L136.0,212.1 L138.8,212.7 L141.6,213.3 L144.4,214.0 L147.2,214.7 L150.0,215.4 L152.8,216.2 L155.6,217.0 L158.4,217.8 L161.2,218.7 L164.0,219.7 L166.8,220.8 L169.6,221.8 L172.4,222.9 L175.2,223.8 L178.0,224.8 L180.8,225.7 L183.6,226.7 L186.4,227.6 L189.2,228.5 L192.0,229.3 L194.8,230.2 L197.6,231.0 L200.4,231.8 L203.2,232.6 L206.0,233.4 L208.8,234.1 L211.6,234.9 L214.4,235.6 L217.2,236.4 L220.0,237.1 L222.8,237.9 L225.6,238.6 L228.4,239.4 L228.4,248.2 L225.6,247.1 L222.8,246.1 L220.0,245.1 L217.2,244.1 L214.4,243.1 L211.6,242.1 L208.8,241.1 L206.0,240.1 L203.2,239.2 L200.4,238.2 L197.6,237.3 L194.8,236.3 L192.0,235.4 L189.2,234.5 L186.4,233.6 L183.6,232.7 L180.8,231.8 L178.0,230.8 L175.2,229.9 L172.4,228.9 L169.6,227.9 L166.8,226.8 L164.0,225.7 L161.2,224.8 L158.4,223.9 L155.6,223.0 L152.8,222.2 L150.0,221.4 L147.2,220.7 L144.4,220.0 L141.6,219.3 L138.8,218.7 L136.0,218.2 L133.2,217.7 L130.4,217.2 L127.6,216.7 L124.8,216.4 L122.0,216.0 L119.2,215.7 L116.4,215.4 L113.6,215.1 L110.8,214.9 L108.0,214.7 L105.2,214.5 L102.4,214.4 L99.6,214.3 L96.8,214.2 L94.0,214.1 L91.2,214.0 L88.4,213.9 L85.6,213.8 L82.8,213.8 L80.0,213.7 L77.2,213.7 L74.4,213.7 L71.6,213.7 L68.8,213.7 L66.0,213.7 L63.2,213.7 L60.4,213.7 L57.6,213.8 L54.8,213.8 L52.0,213.8 L49.2,213.8 Z" fill="#c8b8d0" clip-path="url(#c3)"/>
<path d="M49.2,241.5 L52.0,241.5 L54.8,241.5 L57.6,241.5 L60.4,241.5 L63.2,241.5 L66.0,241.5 L68.8,241.5 L71.6,241.5 L74.4,241.5 L77.2,241.5 L80.0,241.5 L82.8,241.6 L85.6,241.6 L88.4,241.6 L91.2,241.6 L94.0,241.6 L96.8,241.6 L99.6,241.7 L102.4,241.7 L105.2,241.7 L108.0,241.7 L110.8,241.8 L113.6,241.8 L116.4,241.9 L119.2,241.9 L122.0,242.0 L124.8,242.1 L127.6,242.2 L130.4,242.2 L133.2,242.3 L136.0,242.4 L138.8,242.5 L141.6,242.7 L144.4,242.8 L147.2,242.9 L150.0,243.0 L152.8,243.2 L155.6,243.3 L158.4,243.5 L161.2,243.7 L164.0,243.9 L166.8,244.1 L169.6,244.3 L172.4,244.5 L175.2,244.7 L178.0,244.9 L180.8,245.1 L183.6,245.3 L186.4,245.6 L189.2,245.8 L192.0,246.0 L194.8,246.3 L197.6,246.5 L200.4,246.7 L203.2,246.9 L206.0,247.2 L208.8,247.4 L211.6,247.6 L214.4,247.9 L217.2,248.2 L220.0,248.5 L222.8,248.8 L225.6,249.1 L228.4,249.4 L228.4,253.7 L225.6,253.3 L222.8,252.9 L220.0,252.5 L217.2,252.1 L214.4,251.7 L211.6,251.4 L208.8,251.0 L206.0,250.7 L203.2,250.4 L200.4,250.1 L197.6,249.8 L194.8,249.4 L192.0,249.1 L189.2,248.8 L186.4,248.5 L183.6,248.2 L180.8,247.9 L178.0,247.6 L175.2,247.3 L172.4,247.0 L169.6,246.8 L166.8,246.5 L164.0,246.3 L161.2,246.0 L158.4,245.8 L155.6,245.6 L152.8,245.4 L150.0,245.2 L147.2,245.0 L144.4,244.9 L141.6,244.7 L138.8,244.6 L136.0,244.4 L133.2,244.3 L130.4,244.2 L127.6,244.1 L124.8,244.0 L122.0,243.9 L119.2,243.8 L116.4,243.7 L113.6,243.6 L110.8,243.5 L108.0,243.5 L105.2,243.4 L102.4,243.4 L99.6,243.4 L96.8,243.3 L94.0,243.3 L91.2,243.3 L88.4,243.2 L85.6,243.2 L82.8,243.2 L80.0,243.1 L77.2,243.1 L74.4,243.1 L71.6,243.1 L68.8,243.0 L66.0,243.0 L63.2,243.0 L60.4,243.0 L57.6,243.0 L54.8,242.9 L52.0,242.9 L49.2,242.9 Z" fill="#b4e4be" fill-opacity="1"/>
<path d="M49.2,242.2 L52.0,242.2 L54.8,242.2 L57.6,242.2 L60.4,242.2 L63.2,242.3 L66.0,242.3 L68.8,242.3 L71.6,242.3 L74.4,242.3 L77.2,242.3 L80.0,242.3 L82.8,242.4 L85.6,242.4 L88.4,242.4 L91.2,242.4 L94.0,242.5 L96.8,242.5 L99.6,242.5 L102.4,242.5 L105.2,242.6 L108.0,242.6 L110.8,242.7 L113.6,242.7 L116.4,242.8 L119.2,242.8 L122.0,242.9 L124.8,243.0 L127.6,243.1 L130.4,243.2 L133.2,243.3 L136.0,243.4 L138.8,243.6 L141.6,243.7 L144.4,243.8 L147.2,244.0 L150.0,244.1 L152.8,244.3 L155.6,244.5 L158.4,244.7 L161.2,244.8 L164.0,245.1 L166.8,245.3 L169.6,245.5 L172.4,245.7 L175.2,246.0 L178.0,246.2 L180.8,246.5 L183.6,246.8 L186.4,247.0 L189.2,247.3 L192.0,247.6 L194.8,247.9 L197.6,248.1 L200.4,248.4 L203.2,248.7 L206.0,248.9 L208.8,249.2 L211.6,249.5 L214.4,249.8 L217.2,250.1 L220.0,250.5 L222.8,250.8 L225.6,251.2 L228.4,251.6" fill="none" stroke="#47a962" stroke-width="1.25"/>
<path d="M49.2,209.5 L52.0,209.6 L54.8,209.7 L57.6,209.7 L60.4,209.8 L63.2,209.9 L66.0,209.9 L68.8,210.0 L71.6,210.0 L74.4,210.1 L77.2,210.1 L80.0,210.2 L82.8,210.2 L85.6,210.3 L88.4,210.4 L91.2,210.5 L94.0,210.7 L96.8,210.8 L99.6,210.9 L102.4,211.1 L105.2,211.2 L108.0,211.4 L110.8,211.7 L113.6,212.0 L116.4,212.2 L119.2,212.6 L122.0,212.9 L124.8,213.3 L127.6,213.7 L130.4,214.1 L133.2,214.6 L136.0,215.2 L138.8,215.7 L141.6,216.3 L144.4,217.0 L147.2,217.7 L150.0,218.4 L152.8,219.2 L155.6,220.0 L158.4,220.9 L161.2,221.8 L164.0,222.7 L166.8,223.8 L169.6,224.8 L172.4,225.9 L175.2,226.9 L178.0,227.8 L180.8,228.8 L183.6,229.7 L186.4,230.6 L189.2,231.5 L192.0,232.4 L194.8,233.3 L197.6,234.1 L200.4,235.0 L203.2,235.9 L206.0,236.7 L208.8,237.6 L211.6,238.5 L214.4,239.4 L217.2,240.2 L220.0,241.1 L222.8,242.0 L225.6,242.9 L228.4,243.8" fill="none" stroke="#921b43" stroke-width="1.25"/>
<path d="M49.2,209.5 L52.0,209.6 L54.8,209.7 L57.6,209.7 L60.4,209.8 L63.2,209.9 L66.0,209.9 L68.8,210.0 L71.6,210.0 L74.4,210.1 L77.2,210.1 L80.0,210.2 L82.8,210.2 L85.6,210.3 L88.4,210.4 L91.2,210.5 L94.0,210.6 L96.8,210.7 L99.6,210.8 L102.4,210.9 L105.2,211.1 L108.0,211.3 L110.8,211.5 L113.6,211.7 L116.4,211.9 L119.2,212.2 L122.0,212.5 L124.8,212.8 L127.6,213.1 L130.4,213.5 L133.2,213.9 L136.0,214.3 L138.8,214.7 L141.6,215.1 L144.4,215.5 L147.2,215.9 L150.0,216.4 L152.8,216.9 L155.6,217.5 L158.4,218.1 L161.2,218.7 L164.0,219.4 L166.8,220.1 L169.6,220.9 L172.4,221.6 L175.2,222.3 L178.0,223.0 L180.8,223.6 L183.6,224.3 L186.4,224.9 L189.2,225.6 L192.0,226.2 L194.8,226.8 L197.6,227.5 L200.4,228.1 L203.2,228.7 L206.0,229.4 L208.8,230.0 L211.6,230.7 L214.4,231.4 L217.2,232.1 L220.0,232.8 L222.8,233.5 L225.6,234.2 L228.4,234.9" fill="none" stroke="#1f4864" stroke-width="1.25"/>
<clipPath id="c4"><path d="M335.1,205.1 L337.9,205.3 L340.7,205.6 L343.5,205.9 L346.3,206.1 L349.1,206.3 L351.9,206.5 L354.7,206.7 L357.5,206.8 L360.3,206.9 L363.1,207.0 L365.9,207.1 L368.7,207.2 L371.5,207.3 L374.3,207.4 L377.1,207.6 L379.9,207.7 L382.6,207.8 L385.4,207.9 L388.2,208.1 L391.0,208.2 L393.8,208.4 L396.6,208.6 L399.4,208.8 L402.2,209.0 L405.0,209.3 L407.8,209.6 L410.6,209.9 L413.4,210.3 L416.2,210.8 L419.0,211.3 L421.8,211.9 L424.6,212.5 L427.4,213.0 L430.2,213.6 L433.0,214.2 L435.8,214.8 L438.6,215.4 L441.4,216.0 L444.2,216.5 L447.0,217.1 L449.8,217.7 L452.6,218.3 L455.4,218.9 L458.2,219.5 L461.0,220.1 L463.8,220.7 L466.6,221.3 L469.4,221.8 L472.1,222.4 L474.9,223.0 L477.7,223.5 L480.5,224.0 L483.3,224.5 L486.1,224.9 L488.9,225.3 L491.7,225.7 L494.5,226.1 L497.3,226.5 L500.1,226.9 L502.9,227.3 L505.7,227.7 L508.5,228.1 L511.3,228.5 L514.1,228.8 L514.1,239.3 L511.3,238.6 L508.5,237.8 L505.7,237.1 L502.9,236.3 L500.1,235.6 L497.3,234.9 L494.5,234.2 L491.7,233.4 L488.9,232.7 L486.1,232.0 L483.3,231.3 L480.5,230.7 L477.7,230.1 L474.9,229.5 L472.1,229.0 L469.4,228.4 L466.6,227.9 L463.8,227.3 L461.0,226.8 L458.2,226.2 L455.4,225.7 L452.6,225.1 L449.8,224.5 L447.0,224.0 L444.2,223.4 L441.4,222.8 L438.6,222.3 L435.8,221.7 L433.0,221.2 L430.2,220.6 L427.4,220.0 L424.6,219.4 L421.8,218.9 L419.0,218.3 L416.2,217.7 L413.4,217.2 L410.6,216.8 L407.8,216.5 L405.0,216.2 L402.2,215.9 L399.4,215.6 L396.6,215.4 L393.8,215.3 L391.0,215.1 L388.2,215.0 L385.4,214.9 L382.6,214.7 L379.9,214.6 L377.1,214.6 L374.3,214.5 L371.5,214.4 L368.7,214.3 L365.9,214.3 L363.1,214.2 L360.3,214.2 L357.5,214.1 L354.7,214.0 L351.9,214.0 L349.1,213.9 L346.3,213.8 L343.5,213.6 L340.7,213.5 L337.9,213.3 L335.1,213.2 Z"/></clipPath>
<path d="M335.1,205.1 L337.9,205.3 L340.7,205.6 L343.5,205.9 L346.3,206.1 L349.1,206.3 L351.9,206.5 L354.7,206.7 L357.5,206.8 L360.3,206.9 L363.1,207.0 L365.9,207.1 L368.7,207.2 L371.5,207.4 L374.3,207.5 L377.1,207.6 L379.9,207.8 L382.6,208.0 L385.4,208.2 L388.2,208.4 L391.0,208.6 L393.8,208.9 L396.6,209.2 L399.4,209.5 L402.2,209.9 L405.0,210.4 L407.8,210.9 L410.6,211.5 L413.4,212.2 L416.2,212.9 L419.0,213.6 L421.8,214.3 L424.6,215.1 L427.4,215.7 L430.2,216.4 L433.0,217.0 L435.8,217.7 L438.6,218.4 L441.4,219.2 L444.2,219.9 L447.0,220.7 L449.8,221.6 L452.6,222.4 L455.4,223.2 L458.2,224.1 L461.0,224.9 L463.8,225.7 L466.6,226.5 L469.4,227.4 L472.1,228.2 L474.9,229.0 L477.7,229.8 L480.5,230.6 L483.3,231.3 L486.1,232.0 L488.9,232.7 L491.7,233.4 L494.5,234.1 L497.3,234.9 L500.1,235.6 L502.9,236.4 L505.7,237.2 L508.5,238.1 L511.3,238.9 L514.1,239.7 L514.1,250.5 L511.3,249.3 L508.5,248.1 L505.7,246.9 L502.9,245.7 L500.1,244.6 L497.3,243.5 L494.5,242.4 L491.7,241.3 L488.9,240.3 L486.1,239.2 L483.3,238.2 L480.5,237.2 L477.7,236.3 L474.9,235.5 L472.1,234.6 L469.4,233.7 L466.6,232.8 L463.8,231.9 L461.0,231.0 L458.2,230.1 L455.4,229.2 L452.6,228.2 L449.8,227.3 L447.0,226.4 L444.2,225.6 L441.4,224.7 L438.6,223.9 L435.8,223.2 L433.0,222.4 L430.2,221.8 L427.4,221.1 L424.6,220.4 L421.8,219.8 L419.0,219.1 L416.2,218.4 L413.4,217.8 L410.6,217.3 L407.8,216.8 L405.0,216.3 L402.2,215.9 L399.4,215.6 L396.6,215.4 L393.8,215.2 L391.0,215.0 L388.2,214.9 L385.4,214.8 L382.6,214.7 L379.9,214.6 L377.1,214.6 L374.3,214.5 L371.5,214.4 L368.7,214.3 L365.9,214.3 L363.1,214.2 L360.3,214.2 L357.5,214.1 L354.7,214.0 L351.9,214.0 L349.1,213.9 L346.3,213.8 L343.5,213.6 L340.7,213.5 L337.9,213.3 L335.1,213.2 Z" fill="#f5c1ca"/>
<path d="M335.1,205.1 L337.9,205.3 L340.7,205.6 L343.5,205.9 L346.3,206.1 L349.1,206.3 L351.9,206.5 L354.7,206.7 L357.5,206.8 L360.3,206.9 L363.1,207.0 L365.9,207.1 L368.7,207.2 L371.5,207.3 L374.3,207.4 L377.1,207.6 L379.9,207.7 L382.6,207.8 L385.4,207.9 L388.2,208.1 L391.0,208.2 L393.8,208.4 L396.6,208.6 L399.4,208.8 L402.2,209.0 L405.0,209.3 L407.8,209.6 L410.6,209.9 L413.4,210.3 L416.2,210.8 L419.0,211.3 L421.8,211.9 L424.6,212.5 L427.4,213.0 L430.2,213.6 L433.0,214.2 L435.8,214.8 L438.6,215.4 L441.4,216.0 L444.2,216.5 L447.0,217.1 L449.8,217.7 L452.6,218.3 L455.4,218.9 L458.2,219.5 L461.0,220.1 L463.8,220.7 L466.6,221.3 L469.4,221.8 L472.1,222.4 L474.9,223.0 L477.7,223.5 L480.5,224.0 L483.3,224.5 L486.1,224.9 L488.9,225.3 L491.7,225.7 L494.5,226.1 L497.3,226.5 L500.1,226.9 L502.9,227.3 L505.7,227.7 L508.5,228.1 L511.3,228.5 L514.1,228.8 L514.1,239.3 L511.3,238.6 L508.5,237.8 L505.7,237.1 L502.9,236.3 L500.1,235.6 L497.3,234.9 L494.5,234.2 L491.7,233.4 L488.9,232.7 L486.1,232.0 L483.3,231.3 L480.5,230.7 L477.7,230.1 L474.9,229.5 L472.1,229.0 L469.4,228.4 L466.6,227.9 L463.8,227.3 L461.0,226.8 L458.2,226.2 L455.4,225.7 L452.6,225.1 L449.8,224.5 L447.0,224.0 L444.2,223.4 L441.4,222.8 L438.6,222.3 L435.8,221.7 L433.0,221.2 L430.2,220.6 L427.4,220.0 L424.6,219.4 L421.8,218.9 L419.0,218.3 L416.2,217.7 L413.4,217.2 L410.6,216.8 L407.8,216.5 L405.0,216.2 L402.2,215.9 L399.4,215.6 L396.6,215.4 L393.8,215.3 L391.0,215.1 L388.2,215.0 L385.4,214.9 L382.6,214.7 L379.9,214.6 L377.1,214.6 L374.3,214.5 L371.5,214.4 L368.7,214.3 L365.9,214.3 L363.1,214.2 L360.3,214.2 L357.5,214.1 L354.7,214.0 L351.9,214.0 L349.1,213.9 L346.3,213.8 L343.5,213.6 L340.7,213.5 L337.9,213.3 L335.1,213.2 Z" fill="#cadcec"/>
<path d="M335.1,205.1 L337.9,205.3 L340.7,205.6 L343.5,205.9 L346.3,206.1 L349.1,206.3 L351.9,206.5 L354.7,206.7 L357.5,206.8 L360.3,206.9 L363.1,207.0 L365.9,207.1 L368.7,207.2 L371.5,207.4 L374.3,207.5 L377.1,207.6 L379.9,207.8 L382.6,208.0 L385.4,208.2 L388.2,208.4 L391.0,208.6 L393.8,208.9 L396.6,209.2 L399.4,209.5 L402.2,209.9 L405.0,210.4 L407.8,210.9 L410.6,211.5 L413.4,212.2 L416.2,212.9 L419.0,213.6 L421.8,214.3 L424.6,215.1 L427.4,215.7 L430.2,216.4 L433.0,217.0 L435.8,217.7 L438.6,218.4 L441.4,219.2 L444.2,219.9 L447.0,220.7 L449.8,221.6 L452.6,222.4 L455.4,223.2 L458.2,224.1 L461.0,224.9 L463.8,225.7 L466.6,226.5 L469.4,227.4 L472.1,228.2 L474.9,229.0 L477.7,229.8 L480.5,230.6 L483.3,231.3 L486.1,232.0 L488.9,232.7 L491.7,233.4 L494.5,234.1 L497.3,234.9 L500.1,235.6 L502.9,236.4 L505.7,237.2 L508.5,238.1 L511.3,238.9 L514.1,239.7 L514.1,250.5 L511.3,249.3 L508.5,248.1 L505.7,246.9 L502.9,245.7 L500.1,244.6 L497.3,243.5 L494.5,242.4 L491.7,241.3 L488.9,240.3 L486.1,239.2 L483.3,238.2 L480.5,237.2 L477.7,236.3 L474.9,235.5 L472.1,234.6 L469.4,233.7 L466.6,232.8 L463.8,231.9 L461.0,231.0 L458.2,230.1 L455.4,229.2 L452.6,228.2 L449.8,227.3 L447.0,226.4 L444.2,225.6 L441.4,224.7 L438.6,223.9 L435.8,223.2 L433.0,222.4 L430.2,221.8 L427.4,221.1 L424.6,220.4 L421.8,219.8 L419.0,219.1 L416.2,218.4 L413.4,217.8 L410.6,217.3 L407.8,216.8 L405.0,216.3 L402.2,215.9 L399.4,215.6 L396.6,215.4 L393.8,215.2 L391.0,215.0 L388.2,214.9 L385.4,214.8 L382.6,214.7 L379.9,214.6 L377.1,214.6 L374.3,214.5 L371.5,214.4 L368.7,214.3 L365.9,214.3 L363.1,214.2 L360.3,214.2 L357.5,214.1 L354.7,214.0 L351.9,214.0 L349.1,213.9 L346.3,213.8 L343.5,213.6 L340.7,213.5 L337.9,213.3 L335.1,213.2 Z" fill="#c8b8d0" clip-path="url(#c4)"/>
<path d="M335.1,241.4 L337.9,241.4 L340.7,241.4 L343.5,241.4 L346.3,241.4 L349.1,241.4 L351.9,241.4 L354.7,241.4 L357.5,241.4 L360.3,241.4 L363.1,241.4 L365.9,241.4 L368.7,241.4 L371.5,241.4 L374.3,241.4 L377.1,241.4 L379.9,241.5 L382.6,241.5 L385.4,241.5 L388.2,241.5 L391.0,241.6 L393.8,241.6 L396.6,241.6 L399.4,241.7 L402.2,241.7 L405.0,241.7 L407.8,241.8 L410.6,241.8 L413.4,241.9 L416.2,242.0 L419.0,242.1 L421.8,242.2 L424.6,242.4 L427.4,242.5 L430.2,242.6 L433.0,242.8 L435.8,243.0 L438.6,243.2 L441.4,243.4 L444.2,243.6 L447.0,243.8 L449.8,244.0 L452.6,244.2 L455.4,244.5 L458.2,244.7 L461.0,245.0 L463.8,245.2 L466.6,245.5 L469.4,245.8 L472.1,246.1 L474.9,246.4 L477.7,246.7 L480.5,246.9 L483.3,247.2 L486.1,247.5 L488.9,247.8 L491.7,248.2 L494.5,248.5 L497.3,248.8 L500.1,249.2 L502.9,249.6 L505.7,250.0 L508.5,250.5 L511.3,250.9 L514.1,251.4 L514.1,255.8 L511.3,255.3 L508.5,254.7 L505.7,254.2 L502.9,253.7 L500.1,253.2 L497.3,252.7 L494.5,252.3 L491.7,251.9 L488.9,251.5 L486.1,251.1 L483.3,250.7 L480.5,250.3 L477.7,249.9 L474.9,249.6 L472.1,249.2 L469.4,248.8 L466.6,248.5 L463.8,248.1 L461.0,247.8 L458.2,247.4 L455.4,247.1 L452.6,246.8 L449.8,246.5 L447.0,246.2 L444.2,245.9 L441.4,245.6 L438.6,245.4 L435.8,245.2 L433.0,244.9 L430.2,244.7 L427.4,244.6 L424.6,244.4 L421.8,244.2 L419.0,244.1 L416.2,243.9 L413.4,243.8 L410.6,243.7 L407.8,243.6 L405.0,243.6 L402.2,243.5 L399.4,243.5 L396.6,243.4 L393.8,243.3 L391.0,243.3 L388.2,243.3 L385.4,243.2 L382.6,243.2 L379.9,243.1 L377.1,243.1 L374.3,243.1 L371.5,243.0 L368.7,243.0 L365.9,243.0 L363.1,243.0 L360.3,242.9 L357.5,242.9 L354.7,242.9 L351.9,242.9 L349.1,242.9 L346.3,242.9 L343.5,242.8 L340.7,242.8 L337.9,242.8 L335.1,242.8 Z" fill="#b4e4be" fill-opacity="1"/>
<path d="M335.1,242.1 L337.9,242.1 L340.7,242.1 L343.5,242.1 L346.3,242.1 L349.1,242.1 L351.9,242.1 L354.7,242.2 L357.5,242.2 L360.3,242.2 L363.1,242.2 L365.9,242.2 L368.7,242.2 L371.5,242.2 L374.3,242.2 L377.1,242.3 L379.9,242.3 L382.6,242.3 L385.4,242.4 L388.2,242.4 L391.0,242.4 L393.8,242.5 L396.6,242.5 L399.4,242.6 L402.2,242.6 L405.0,242.7 L407.8,242.7 L410.6,242.8 L413.4,242.8 L416.2,243.0 L419.0,243.1 L421.8,243.2 L424.6,243.4 L427.4,243.5 L430.2,243.7 L433.0,243.9 L435.8,244.1 L438.6,244.3 L441.4,244.5 L444.2,244.7 L447.0,245.0 L449.8,245.2 L452.6,245.5 L455.4,245.8 L458.2,246.1 L461.0,246.4 L463.8,246.7 L466.6,247.0 L469.4,247.3 L472.1,247.6 L474.9,248.0 L477.7,248.3 L480.5,248.6 L483.3,249.0 L486.1,249.3 L488.9,249.7 L491.7,250.0 L494.5,250.4 L497.3,250.8 L500.1,251.2 L502.9,251.7 L505.7,252.1 L508.5,252.6 L511.3,253.1 L514.1,253.6" fill="none" stroke="#47a962" stroke-width="1.25"/>
<path d="M335.1,209.1 L337.9,209.3 L340.7,209.5 L343.5,209.7 L346.3,209.9 L349.1,210.1 L351.9,210.2 L354.7,210.4 L357.5,210.5 L360.3,210.6 L363.1,210.6 L365.9,210.7 L368.7,210.8 L371.5,210.9 L374.3,211.0 L377.1,211.1 L379.9,211.2 L382.6,211.4 L385.4,211.5 L388.2,211.6 L391.0,211.8 L393.8,212.0 L396.6,212.3 L399.4,212.6 L402.2,212.9 L405.0,213.4 L407.8,213.9 L410.6,214.4 L413.4,215.0 L416.2,215.6 L419.0,216.3 L421.8,217.1 L424.6,217.8 L427.4,218.4 L430.2,219.1 L433.0,219.7 L435.8,220.4 L438.6,221.2 L441.4,222.0 L444.2,222.8 L447.0,223.6 L449.8,224.4 L452.6,225.3 L455.4,226.2 L458.2,227.1 L461.0,227.9 L463.8,228.8 L466.6,229.7 L469.4,230.5 L472.1,231.4 L474.9,232.2 L477.7,233.1 L480.5,233.9 L483.3,234.8 L486.1,235.6 L488.9,236.5 L491.7,237.3 L494.5,238.3 L497.3,239.2 L500.1,240.1 L502.9,241.1 L505.7,242.1 L508.5,243.1 L511.3,244.1 L514.1,245.1" fill="none" stroke="#921b43" stroke-width="1.25"/>
<path d="M335.1,209.1 L337.9,209.3 L340.7,209.5 L343.5,209.7 L346.3,209.9 L349.1,210.1 L351.9,210.2 L354.7,210.4 L357.5,210.5 L360.3,210.6 L363.1,210.6 L365.9,210.7 L368.7,210.8 L371.5,210.9 L374.3,211.0 L377.1,211.1 L379.9,211.2 L382.6,211.3 L385.4,211.4 L388.2,211.5 L391.0,211.7 L393.8,211.8 L396.6,212.0 L399.4,212.2 L402.2,212.5 L405.0,212.7 L407.8,213.0 L410.6,213.4 L413.4,213.8 L416.2,214.3 L419.0,214.8 L421.8,215.4 L424.6,215.9 L427.4,216.5 L430.2,217.1 L433.0,217.7 L435.8,218.3 L438.6,218.8 L441.4,219.4 L444.2,220.0 L447.0,220.5 L449.8,221.1 L452.6,221.7 L455.4,222.3 L458.2,222.9 L461.0,223.5 L463.8,224.0 L466.6,224.6 L469.4,225.1 L472.1,225.7 L474.9,226.3 L477.7,226.8 L480.5,227.4 L483.3,227.9 L486.1,228.5 L488.9,229.0 L491.7,229.6 L494.5,230.1 L497.3,230.7 L500.1,231.2 L502.9,231.8 L505.7,232.4 L508.5,232.9 L511.3,233.5 L514.1,234.1" fill="none" stroke="#1f4864" stroke-width="1.25"/>
<line x1="43.30" y1="11.30" x2="43.30" y2="117.20" stroke="#000" stroke-width="1.3"/>
<line x1="42.70" y1="116.60" x2="234.00" y2="116.60" stroke="#000" stroke-width="1.3"/>
<line x1="40.10" y1="111.06" x2="43.30" y2="111.06" stroke="#000" stroke-width="1.05"/>
<text x="37.40" y="113.71" text-anchor="end" class="tk" textLength="24.15" lengthAdjust="spacing">−5000</text>
<line x1="40.10" y1="101.50" x2="43.30" y2="101.50" stroke="#000" stroke-width="1.05"/>
<text x="37.40" y="104.15" text-anchor="end" class="tk" textLength="4.78" lengthAdjust="spacing">0</text>
<line x1="40.10" y1="91.94" x2="43.30" y2="91.94" stroke="#000" stroke-width="1.05"/>
<text x="37.40" y="94.59" text-anchor="end" class="tk" textLength="19.13" lengthAdjust="spacing">5000</text>
<line x1="40.10" y1="82.38" x2="43.30" y2="82.38" stroke="#000" stroke-width="1.05"/>
<text x="37.40" y="85.03" text-anchor="end" class="tk" textLength="23.91" lengthAdjust="spacing">10000</text>
<line x1="40.10" y1="72.82" x2="43.30" y2="72.82" stroke="#000" stroke-width="1.05"/>
<text x="37.40" y="75.47" text-anchor="end" class="tk" textLength="23.91" lengthAdjust="spacing">15000</text>
<line x1="40.10" y1="63.26" x2="43.30" y2="63.26" stroke="#000" stroke-width="1.05"/>
<text x="37.40" y="65.91" text-anchor="end" class="tk" textLength="23.91" lengthAdjust="spacing">20000</text>
<line x1="40.10" y1="53.70" x2="43.30" y2="53.70" stroke="#000" stroke-width="1.05"/>
<text x="37.40" y="56.35" text-anchor="end" class="tk" textLength="23.91" lengthAdjust="spacing">25000</text>
<line x1="40.10" y1="44.14" x2="43.30" y2="44.14" stroke="#000" stroke-width="1.05"/>
<text x="37.40" y="46.79" text-anchor="end" class="tk" textLength="23.91" lengthAdjust="spacing">30000</text>
<line x1="40.10" y1="34.58" x2="43.30" y2="34.58" stroke="#000" stroke-width="1.05"/>
<text x="37.40" y="37.23" text-anchor="end" class="tk" textLength="23.91" lengthAdjust="spacing">35000</text>
<line x1="40.10" y1="25.02" x2="43.30" y2="25.02" stroke="#000" stroke-width="1.05"/>
<text x="37.40" y="27.67" text-anchor="end" class="tk" textLength="23.91" lengthAdjust="spacing">40000</text>
<line x1="40.10" y1="15.46" x2="43.30" y2="15.46" stroke="#000" stroke-width="1.05"/>
<text x="37.40" y="18.11" text-anchor="end" class="tk" textLength="23.91" lengthAdjust="spacing">45000</text>
<line x1="49.30" y1="116.60" x2="49.30" y2="119.60" stroke="#000" stroke-width="1.05"/>
<text x="49.30" y="128.80" text-anchor="middle" class="tk" textLength="4.28" lengthAdjust="spacing">0</text>
<line x1="60.50" y1="116.60" x2="60.50" y2="119.60" stroke="#000" stroke-width="1.05"/>
<text x="60.50" y="128.80" text-anchor="middle" class="tk" textLength="4.28" lengthAdjust="spacing">4</text>
<line x1="71.70" y1="116.60" x2="71.70" y2="119.60" stroke="#000" stroke-width="1.05"/>
<text x="71.70" y="128.80" text-anchor="middle" class="tk" textLength="4.28" lengthAdjust="spacing">8</text>
<line x1="82.90" y1="116.60" x2="82.90" y2="119.60" stroke="#000" stroke-width="1.05"/>
<text x="82.90" y="128.80" text-anchor="middle" class="tk" textLength="8.56" lengthAdjust="spacing">12</text>
<line x1="94.10" y1="116.60" x2="94.10" y2="119.60" stroke="#000" stroke-width="1.05"/>
<text x="94.10" y="128.80" text-anchor="middle" class="tk" textLength="8.56" lengthAdjust="spacing">16</text>
<line x1="105.30" y1="116.60" x2="105.30" y2="119.60" stroke="#000" stroke-width="1.05"/>
<text x="105.30" y="128.80" text-anchor="middle" class="tk" textLength="8.56" lengthAdjust="spacing">20</text>
<line x1="116.50" y1="116.60" x2="116.50" y2="119.60" stroke="#000" stroke-width="1.05"/>
<text x="116.50" y="128.80" text-anchor="middle" class="tk" textLength="8.56" lengthAdjust="spacing">24</text>
<line x1="127.70" y1="116.60" x2="127.70" y2="119.60" stroke="#000" stroke-width="1.05"/>
<text x="127.70" y="128.80" text-anchor="middle" class="tk" textLength="8.56" lengthAdjust="spacing">28</text>
<line x1="138.90" y1="116.60" x2="138.90" y2="119.60" stroke="#000" stroke-width="1.05"/>
<text x="138.90" y="128.80" text-anchor="middle" class="tk" textLength="8.56" lengthAdjust="spacing">32</text>
<line x1="150.10" y1="116.60" x2="150.10" y2="119.60" stroke="#000" stroke-width="1.05"/>
<text x="150.10" y="128.80" text-anchor="middle" class="tk" textLength="8.56" lengthAdjust="spacing">36</text>
<line x1="161.30" y1="116.60" x2="161.30" y2="119.60" stroke="#000" stroke-width="1.05"/>
<text x="161.30" y="128.80" text-anchor="middle" class="tk" textLength="8.56" lengthAdjust="spacing">40</text>
<line x1="172.50" y1="116.60" x2="172.50" y2="119.60" stroke="#000" stroke-width="1.05"/>
<text x="172.50" y="128.80" text-anchor="middle" class="tk" textLength="8.56" lengthAdjust="spacing">44</text>
<line x1="183.70" y1="116.60" x2="183.70" y2="119.60" stroke="#000" stroke-width="1.05"/>
<text x="183.70" y="128.80" text-anchor="middle" class="tk" textLength="8.56" lengthAdjust="spacing">48</text>
<line x1="194.90" y1="116.60" x2="194.90" y2="119.60" stroke="#000" stroke-width="1.05"/>
<text x="194.90" y="128.80" text-anchor="middle" class="tk" textLength="8.56" lengthAdjust="spacing">52</text>
<line x1="206.10" y1="116.60" x2="206.10" y2="119.60" stroke="#000" stroke-width="1.05"/>
<text x="206.10" y="128.80" text-anchor="middle" class="tk" textLength="8.56" lengthAdjust="spacing">56</text>
<line x1="217.30" y1="116.60" x2="217.30" y2="119.60" stroke="#000" stroke-width="1.05"/>
<text x="217.30" y="128.80" text-anchor="middle" class="tk" textLength="8.56" lengthAdjust="spacing">60</text>
<line x1="228.50" y1="116.60" x2="228.50" y2="119.60" stroke="#000" stroke-width="1.05"/>
<text x="228.50" y="128.80" text-anchor="middle" class="tk" textLength="8.56" lengthAdjust="spacing">64</text>
<text x="138.30" y="141.40" text-anchor="middle" class="xl" textLength="40.4" lengthAdjust="spacingAndGlyphs">Age (in years)</text>
<text x="138.40" y="7.50" text-anchor="middle" class="ti">Males</text>
<text transform="translate(7.40,64.10) rotate(-90)" x="0" y="0" text-anchor="middle" class="yl" textLength="90" lengthAdjust="spacingAndGlyphs">SCD-attributable total costs ($)</text>
<line x1="329.00" y1="11.30" x2="329.00" y2="117.20" stroke="#000" stroke-width="1.3"/>
<line x1="328.40" y1="116.60" x2="518.60" y2="116.60" stroke="#000" stroke-width="1.3"/>
<line x1="325.80" y1="110.69" x2="329.00" y2="110.69" stroke="#000" stroke-width="1.05"/>
<text x="323.10" y="113.34" text-anchor="end" class="tk" textLength="24.15" lengthAdjust="spacing">−5000</text>
<line x1="325.80" y1="101.10" x2="329.00" y2="101.10" stroke="#000" stroke-width="1.05"/>
<text x="323.10" y="103.75" text-anchor="end" class="tk" textLength="4.78" lengthAdjust="spacing">0</text>
<line x1="325.80" y1="91.51" x2="329.00" y2="91.51" stroke="#000" stroke-width="1.05"/>
<text x="323.10" y="94.16" text-anchor="end" class="tk" textLength="19.13" lengthAdjust="spacing">5000</text>
<line x1="325.80" y1="81.92" x2="329.00" y2="81.92" stroke="#000" stroke-width="1.05"/>
<text x="323.10" y="84.57" text-anchor="end" class="tk" textLength="23.91" lengthAdjust="spacing">10000</text>
<line x1="325.80" y1="72.33" x2="329.00" y2="72.33" stroke="#000" stroke-width="1.05"/>
<text x="323.10" y="74.98" text-anchor="end" class="tk" textLength="23.91" lengthAdjust="spacing">15000</text>
<line x1="325.80" y1="62.74" x2="329.00" y2="62.74" stroke="#000" stroke-width="1.05"/>
<text x="323.10" y="65.39" text-anchor="end" class="tk" textLength="23.91" lengthAdjust="spacing">20000</text>
<line x1="325.80" y1="53.15" x2="329.00" y2="53.15" stroke="#000" stroke-width="1.05"/>
<text x="323.10" y="55.80" text-anchor="end" class="tk" textLength="23.91" lengthAdjust="spacing">25000</text>
<line x1="325.80" y1="43.56" x2="329.00" y2="43.56" stroke="#000" stroke-width="1.05"/>
<text x="323.10" y="46.21" text-anchor="end" class="tk" textLength="23.91" lengthAdjust="spacing">30000</text>
<line x1="325.80" y1="33.97" x2="329.00" y2="33.97" stroke="#000" stroke-width="1.05"/>
<text x="323.10" y="36.62" text-anchor="end" class="tk" textLength="23.91" lengthAdjust="spacing">35000</text>
<line x1="325.80" y1="24.38" x2="329.00" y2="24.38" stroke="#000" stroke-width="1.05"/>
<text x="323.10" y="27.03" text-anchor="end" class="tk" textLength="23.91" lengthAdjust="spacing">40000</text>
<line x1="325.80" y1="14.79" x2="329.00" y2="14.79" stroke="#000" stroke-width="1.05"/>
<text x="323.10" y="17.44" text-anchor="end" class="tk" textLength="23.91" lengthAdjust="spacing">45000</text>
<line x1="335.10" y1="116.60" x2="335.10" y2="119.60" stroke="#000" stroke-width="1.05"/>
<text x="335.10" y="128.80" text-anchor="middle" class="tk" textLength="4.28" lengthAdjust="spacing">0</text>
<line x1="346.29" y1="116.60" x2="346.29" y2="119.60" stroke="#000" stroke-width="1.05"/>
<text x="346.29" y="128.80" text-anchor="middle" class="tk" textLength="4.28" lengthAdjust="spacing">4</text>
<line x1="357.49" y1="116.60" x2="357.49" y2="119.60" stroke="#000" stroke-width="1.05"/>
<text x="357.49" y="128.80" text-anchor="middle" class="tk" textLength="4.28" lengthAdjust="spacing">8</text>
<line x1="368.68" y1="116.60" x2="368.68" y2="119.60" stroke="#000" stroke-width="1.05"/>
<text x="368.68" y="128.80" text-anchor="middle" class="tk" textLength="8.56" lengthAdjust="spacing">12</text>
<line x1="379.88" y1="116.60" x2="379.88" y2="119.60" stroke="#000" stroke-width="1.05"/>
<text x="379.88" y="128.80" text-anchor="middle" class="tk" textLength="8.56" lengthAdjust="spacing">16</text>
<line x1="391.07" y1="116.60" x2="391.07" y2="119.60" stroke="#000" stroke-width="1.05"/>
<text x="391.07" y="128.80" text-anchor="middle" class="tk" textLength="8.56" lengthAdjust="spacing">20</text>
<line x1="402.26" y1="116.60" x2="402.26" y2="119.60" stroke="#000" stroke-width="1.05"/>
<text x="402.26" y="128.80" text-anchor="middle" class="tk" textLength="8.56" lengthAdjust="spacing">24</text>
<line x1="413.46" y1="116.60" x2="413.46" y2="119.60" stroke="#000" stroke-width="1.05"/>
<text x="413.46" y="128.80" text-anchor="middle" class="tk" textLength="8.56" lengthAdjust="spacing">28</text>
<line x1="424.65" y1="116.60" x2="424.65" y2="119.60" stroke="#000" stroke-width="1.05"/>
<text x="424.65" y="128.80" text-anchor="middle" class="tk" textLength="8.56" lengthAdjust="spacing">32</text>
<line x1="435.84" y1="116.60" x2="435.84" y2="119.60" stroke="#000" stroke-width="1.05"/>
<text x="435.84" y="128.80" text-anchor="middle" class="tk" textLength="8.56" lengthAdjust="spacing">36</text>
<line x1="447.04" y1="116.60" x2="447.04" y2="119.60" stroke="#000" stroke-width="1.05"/>
<text x="447.04" y="128.80" text-anchor="middle" class="tk" textLength="8.56" lengthAdjust="spacing">40</text>
<line x1="458.23" y1="116.60" x2="458.23" y2="119.60" stroke="#000" stroke-width="1.05"/>
<text x="458.23" y="128.80" text-anchor="middle" class="tk" textLength="8.56" lengthAdjust="spacing">44</text>
<line x1="469.43" y1="116.60" x2="469.43" y2="119.60" stroke="#000" stroke-width="1.05"/>
<text x="469.43" y="128.80" text-anchor="middle" class="tk" textLength="8.56" lengthAdjust="spacing">48</text>
<line x1="480.62" y1="116.60" x2="480.62" y2="119.60" stroke="#000" stroke-width="1.05"/>
<text x="480.62" y="128.80" text-anchor="middle" class="tk" textLength="8.56" lengthAdjust="spacing">52</text>
<line x1="491.81" y1="116.60" x2="491.81" y2="119.60" stroke="#000" stroke-width="1.05"/>
<text x="491.81" y="128.80" text-anchor="middle" class="tk" textLength="8.56" lengthAdjust="spacing">56</text>
<line x1="503.01" y1="116.60" x2="503.01" y2="119.60" stroke="#000" stroke-width="1.05"/>
<text x="503.01" y="128.80" text-anchor="middle" class="tk" textLength="8.56" lengthAdjust="spacing">60</text>
<line x1="514.20" y1="116.60" x2="514.20" y2="119.60" stroke="#000" stroke-width="1.05"/>
<text x="514.20" y="128.80" text-anchor="middle" class="tk" textLength="8.56" lengthAdjust="spacing">64</text>
<text x="424.05" y="141.40" text-anchor="middle" class="xl" textLength="40.4" lengthAdjust="spacingAndGlyphs">Age (in years)</text>
<text x="424.65" y="7.50" text-anchor="middle" class="ti">Females</text>
<text transform="translate(293.30,64.20) rotate(-90)" x="0" y="0" text-anchor="middle" class="yl" textLength="91.5" lengthAdjust="spacingAndGlyphs">SCD-attributable total costs ($)</text>
<line x1="43.30" y1="175.00" x2="43.30" y2="280.10" stroke="#000" stroke-width="1.3"/>
<line x1="42.70" y1="279.50" x2="234.00" y2="279.50" stroke="#000" stroke-width="1.3"/>
<line x1="40.10" y1="273.90" x2="43.30" y2="273.90" stroke="#000" stroke-width="1.05"/>
<text x="37.40" y="276.55" text-anchor="end" class="tk" textLength="24.15" lengthAdjust="spacing">−1000</text>
<line x1="40.10" y1="258.05" x2="43.30" y2="258.05" stroke="#000" stroke-width="1.05"/>
<text x="37.40" y="260.70" text-anchor="end" class="tk" textLength="19.37" lengthAdjust="spacing">−500</text>
<line x1="40.10" y1="242.20" x2="43.30" y2="242.20" stroke="#000" stroke-width="1.05"/>
<text x="37.40" y="244.85" text-anchor="end" class="tk" textLength="4.78" lengthAdjust="spacing">0</text>
<line x1="40.10" y1="226.35" x2="43.30" y2="226.35" stroke="#000" stroke-width="1.05"/>
<text x="37.40" y="229.00" text-anchor="end" class="tk" textLength="14.34" lengthAdjust="spacing">500</text>
<line x1="40.10" y1="210.50" x2="43.30" y2="210.50" stroke="#000" stroke-width="1.05"/>
<text x="37.40" y="213.15" text-anchor="end" class="tk" textLength="19.13" lengthAdjust="spacing">1000</text>
<line x1="40.10" y1="194.65" x2="43.30" y2="194.65" stroke="#000" stroke-width="1.05"/>
<text x="37.40" y="197.30" text-anchor="end" class="tk" textLength="19.13" lengthAdjust="spacing">1500</text>
<line x1="40.10" y1="178.80" x2="43.30" y2="178.80" stroke="#000" stroke-width="1.05"/>
<text x="37.40" y="181.45" text-anchor="end" class="tk" textLength="19.13" lengthAdjust="spacing">2000</text>
<line x1="49.20" y1="279.50" x2="49.20" y2="282.50" stroke="#000" stroke-width="1.05"/>
<text x="49.20" y="291.50" text-anchor="middle" class="tk" textLength="4.28" lengthAdjust="spacing">0</text>
<line x1="60.40" y1="279.50" x2="60.40" y2="282.50" stroke="#000" stroke-width="1.05"/>
<text x="60.40" y="291.50" text-anchor="middle" class="tk" textLength="4.28" lengthAdjust="spacing">4</text>
<line x1="71.60" y1="279.50" x2="71.60" y2="282.50" stroke="#000" stroke-width="1.05"/>
<text x="71.60" y="291.50" text-anchor="middle" class="tk" textLength="4.28" lengthAdjust="spacing">8</text>
<line x1="82.80" y1="279.50" x2="82.80" y2="282.50" stroke="#000" stroke-width="1.05"/>
<text x="82.80" y="291.50" text-anchor="middle" class="tk" textLength="8.56" lengthAdjust="spacing">12</text>
<line x1="94.00" y1="279.50" x2="94.00" y2="282.50" stroke="#000" stroke-width="1.05"/>
<text x="94.00" y="291.50" text-anchor="middle" class="tk" textLength="8.56" lengthAdjust="spacing">16</text>
<line x1="105.20" y1="279.50" x2="105.20" y2="282.50" stroke="#000" stroke-width="1.05"/>
<text x="105.20" y="291.50" text-anchor="middle" class="tk" textLength="8.56" lengthAdjust="spacing">20</text>
<line x1="116.40" y1="279.50" x2="116.40" y2="282.50" stroke="#000" stroke-width="1.05"/>
<text x="116.40" y="291.50" text-anchor="middle" class="tk" textLength="8.56" lengthAdjust="spacing">24</text>
<line x1="127.60" y1="279.50" x2="127.60" y2="282.50" stroke="#000" stroke-width="1.05"/>
<text x="127.60" y="291.50" text-anchor="middle" class="tk" textLength="8.56" lengthAdjust="spacing">28</text>
<line x1="138.80" y1="279.50" x2="138.80" y2="282.50" stroke="#000" stroke-width="1.05"/>
<text x="138.80" y="291.50" text-anchor="middle" class="tk" textLength="8.56" lengthAdjust="spacing">32</text>
<line x1="150.00" y1="279.50" x2="150.00" y2="282.50" stroke="#000" stroke-width="1.05"/>
<text x="150.00" y="291.50" text-anchor="middle" class="tk" textLength="8.56" lengthAdjust="spacing">36</text>
<line x1="161.20" y1="279.50" x2="161.20" y2="282.50" stroke="#000" stroke-width="1.05"/>
<text x="161.20" y="291.50" text-anchor="middle" class="tk" textLength="8.56" lengthAdjust="spacing">40</text>
<line x1="172.40" y1="279.50" x2="172.40" y2="282.50" stroke="#000" stroke-width="1.05"/>
<text x="172.40" y="291.50" text-anchor="middle" class="tk" textLength="8.56" lengthAdjust="spacing">44</text>
<line x1="183.60" y1="279.50" x2="183.60" y2="282.50" stroke="#000" stroke-width="1.05"/>
<text x="183.60" y="291.50" text-anchor="middle" class="tk" textLength="8.56" lengthAdjust="spacing">48</text>
<line x1="194.80" y1="279.50" x2="194.80" y2="282.50" stroke="#000" stroke-width="1.05"/>
<text x="194.80" y="291.50" text-anchor="middle" class="tk" textLength="8.56" lengthAdjust="spacing">52</text>
<line x1="206.00" y1="279.50" x2="206.00" y2="282.50" stroke="#000" stroke-width="1.05"/>
<text x="206.00" y="291.50" text-anchor="middle" class="tk" textLength="8.56" lengthAdjust="spacing">56</text>
<line x1="217.20" y1="279.50" x2="217.20" y2="282.50" stroke="#000" stroke-width="1.05"/>
<text x="217.20" y="291.50" text-anchor="middle" class="tk" textLength="8.56" lengthAdjust="spacing">60</text>
<line x1="228.40" y1="279.50" x2="228.40" y2="282.50" stroke="#000" stroke-width="1.05"/>
<text x="228.40" y="291.50" text-anchor="middle" class="tk" textLength="8.56" lengthAdjust="spacing">64</text>
<text x="138.20" y="304.20" text-anchor="middle" class="xl" textLength="40.4" lengthAdjust="spacingAndGlyphs">Age (in years)</text>
<text x="138.30" y="170.90" text-anchor="middle" class="ti">Males</text>
<text transform="translate(7.50,227.30) rotate(-90)" x="0" y="0" text-anchor="middle" class="yl" textLength="91" lengthAdjust="spacingAndGlyphs">SCD-attributable OOP costs ($)</text>
<line x1="329.00" y1="175.00" x2="329.00" y2="280.10" stroke="#000" stroke-width="1.3"/>
<line x1="328.40" y1="279.50" x2="520.00" y2="279.50" stroke="#000" stroke-width="1.3"/>
<line x1="325.80" y1="273.80" x2="329.00" y2="273.80" stroke="#000" stroke-width="1.05"/>
<text x="323.10" y="276.45" text-anchor="end" class="tk" textLength="24.15" lengthAdjust="spacing">−1000</text>
<line x1="325.80" y1="257.95" x2="329.00" y2="257.95" stroke="#000" stroke-width="1.05"/>
<text x="323.10" y="260.60" text-anchor="end" class="tk" textLength="19.37" lengthAdjust="spacing">−500</text>
<line x1="325.80" y1="242.10" x2="329.00" y2="242.10" stroke="#000" stroke-width="1.05"/>
<text x="323.10" y="244.75" text-anchor="end" class="tk" textLength="4.78" lengthAdjust="spacing">0</text>
<line x1="325.80" y1="226.25" x2="329.00" y2="226.25" stroke="#000" stroke-width="1.05"/>
<text x="323.10" y="228.90" text-anchor="end" class="tk" textLength="14.34" lengthAdjust="spacing">500</text>
<line x1="325.80" y1="210.40" x2="329.00" y2="210.40" stroke="#000" stroke-width="1.05"/>
<text x="323.10" y="213.05" text-anchor="end" class="tk" textLength="19.13" lengthAdjust="spacing">1000</text>
<line x1="325.80" y1="194.55" x2="329.00" y2="194.55" stroke="#000" stroke-width="1.05"/>
<text x="323.10" y="197.20" text-anchor="end" class="tk" textLength="19.13" lengthAdjust="spacing">1500</text>
<line x1="325.80" y1="178.70" x2="329.00" y2="178.70" stroke="#000" stroke-width="1.05"/>
<text x="323.10" y="181.35" text-anchor="end" class="tk" textLength="19.13" lengthAdjust="spacing">2000</text>
<line x1="335.10" y1="279.50" x2="335.10" y2="282.50" stroke="#000" stroke-width="1.05"/>
<text x="335.10" y="291.40" text-anchor="middle" class="tk" textLength="4.28" lengthAdjust="spacing">0</text>
<line x1="346.29" y1="279.50" x2="346.29" y2="282.50" stroke="#000" stroke-width="1.05"/>
<text x="346.29" y="291.40" text-anchor="middle" class="tk" textLength="4.28" lengthAdjust="spacing">4</text>
<line x1="357.48" y1="279.50" x2="357.48" y2="282.50" stroke="#000" stroke-width="1.05"/>
<text x="357.48" y="291.40" text-anchor="middle" class="tk" textLength="4.28" lengthAdjust="spacing">8</text>
<line x1="368.66" y1="279.50" x2="368.66" y2="282.50" stroke="#000" stroke-width="1.05"/>
<text x="368.66" y="291.40" text-anchor="middle" class="tk" textLength="8.56" lengthAdjust="spacing">12</text>
<line x1="379.85" y1="279.50" x2="379.85" y2="282.50" stroke="#000" stroke-width="1.05"/>
<text x="379.85" y="291.40" text-anchor="middle" class="tk" textLength="8.56" lengthAdjust="spacing">16</text>
<line x1="391.04" y1="279.50" x2="391.04" y2="282.50" stroke="#000" stroke-width="1.05"/>
<text x="391.04" y="291.40" text-anchor="middle" class="tk" textLength="8.56" lengthAdjust="spacing">20</text>
<line x1="402.23" y1="279.50" x2="402.23" y2="282.50" stroke="#000" stroke-width="1.05"/>
<text x="402.23" y="291.40" text-anchor="middle" class="tk" textLength="8.56" lengthAdjust="spacing">24</text>
<line x1="413.41" y1="279.50" x2="413.41" y2="282.50" stroke="#000" stroke-width="1.05"/>
<text x="413.41" y="291.40" text-anchor="middle" class="tk" textLength="8.56" lengthAdjust="spacing">28</text>
<line x1="424.60" y1="279.50" x2="424.60" y2="282.50" stroke="#000" stroke-width="1.05"/>
<text x="424.60" y="291.40" text-anchor="middle" class="tk" textLength="8.56" lengthAdjust="spacing">32</text>
<line x1="435.79" y1="279.50" x2="435.79" y2="282.50" stroke="#000" stroke-width="1.05"/>
<text x="435.79" y="291.40" text-anchor="middle" class="tk" textLength="8.56" lengthAdjust="spacing">36</text>
<line x1="446.98" y1="279.50" x2="446.98" y2="282.50" stroke="#000" stroke-width="1.05"/>
<text x="446.98" y="291.40" text-anchor="middle" class="tk" textLength="8.56" lengthAdjust="spacing">40</text>
<line x1="458.16" y1="279.50" x2="458.16" y2="282.50" stroke="#000" stroke-width="1.05"/>
<text x="458.16" y="291.40" text-anchor="middle" class="tk" textLength="8.56" lengthAdjust="spacing">44</text>
<line x1="469.35" y1="279.50" x2="469.35" y2="282.50" stroke="#000" stroke-width="1.05"/>
<text x="469.35" y="291.40" text-anchor="middle" class="tk" textLength="8.56" lengthAdjust="spacing">48</text>
<line x1="480.54" y1="279.50" x2="480.54" y2="282.50" stroke="#000" stroke-width="1.05"/>
<text x="480.54" y="291.40" text-anchor="middle" class="tk" textLength="8.56" lengthAdjust="spacing">52</text>
<line x1="491.73" y1="279.50" x2="491.73" y2="282.50" stroke="#000" stroke-width="1.05"/>
<text x="491.73" y="291.40" text-anchor="middle" class="tk" textLength="8.56" lengthAdjust="spacing">56</text>
<line x1="502.91" y1="279.50" x2="502.91" y2="282.50" stroke="#000" stroke-width="1.05"/>
<text x="502.91" y="291.40" text-anchor="middle" class="tk" textLength="8.56" lengthAdjust="spacing">60</text>
<line x1="514.10" y1="279.50" x2="514.10" y2="282.50" stroke="#000" stroke-width="1.05"/>
<text x="514.10" y="291.40" text-anchor="middle" class="tk" textLength="8.56" lengthAdjust="spacing">64</text>
<text x="424.00" y="304.20" text-anchor="middle" class="xl" textLength="40.4" lengthAdjust="spacingAndGlyphs">Age (in years)</text>
<text x="424.60" y="170.90" text-anchor="middle" class="ti">Females</text>
<text transform="translate(294.20,227.30) rotate(-90)" x="0" y="0" text-anchor="middle" class="yl" textLength="91" lengthAdjust="spacingAndGlyphs">SCD-attributable OOP costs ($)</text>
<line x1="137.5" y1="320.6" x2="149.5" y2="320.6" stroke="#921b43" stroke-width="1.4"/>
<text x="153" y="323.2" class="lg">Survival-adjusted difference</text>
<line x1="250.5" y1="320.6" x2="262.5" y2="320.6" stroke="#1f4864" stroke-width="1.4"/>
<text x="265" y="323.2" class="lg">Intensity effect</text>
<line x1="322.5" y1="320.6" x2="334.5" y2="320.6" stroke="#47a962" stroke-width="1.4"/>
<text x="337" y="323.2" class="lg">Mortality effect</text>
</svg>
</body></html>
